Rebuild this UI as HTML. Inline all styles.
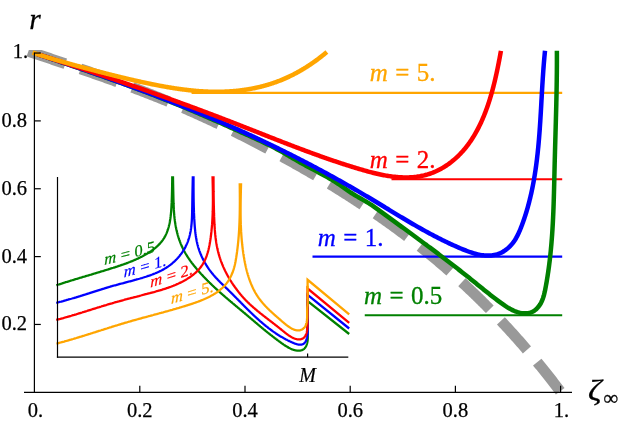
<!DOCTYPE html>
<html><head><meta charset="utf-8"><title>plot</title>
<style>
html,body{margin:0;padding:0;background:#fff;}
svg{display:block;}
text{font-family:"Liberation Serif",serif;}
</style></head>
<body>
<svg width="623" height="426" viewBox="0 0 623 426" style="will-change:transform">
<defs>
<clipPath id="clipmain"><rect x="0" y="50" width="623" height="376"/></clipPath>
<clipPath id="clipinset"><rect x="56" y="176.2" width="294" height="185"/></clipPath>
<clipPath id="clipinset2"><rect x="56" y="183.2" width="294" height="178"/></clipPath>
</defs>
<rect x="0" y="0" width="623" height="426" fill="#ffffff"/>
<path d="M28.40,51.26 L29.93,51.78 L31.47,52.30 L33.00,52.82 L34.53,53.33 L36.06,53.85 L37.60,54.36 L39.13,54.88 L40.66,55.39 L42.19,55.91 L43.72,56.42 L45.25,56.94 L46.78,57.45 L48.31,57.97 L49.84,58.48 L51.37,59.00 L52.89,59.51 L54.42,60.03 L55.95,60.54 L57.48,61.06 L59.00,61.57 L60.53,62.09 L62.06,62.60 L63.58,63.12 L65.11,63.64 L66.63,64.15 L68.16,64.67 L69.68,65.19 L71.21,65.70 L72.73,66.22 L74.25,66.74 L75.77,67.26 L77.30,67.78 L78.82,68.30 L80.34,68.82 L81.86,69.34 L83.38,69.87 L84.90,70.39 L86.42,70.91 L87.94,71.44 L89.45,71.96 L90.97,72.49 L92.49,73.02 L94.01,73.55 L95.52,74.07 L97.04,74.60 L98.55,75.14 L100.07,75.67 L101.58,76.20 L103.10,76.74 L104.61,77.27 L106.12,77.81 L107.63,78.35 L109.15,78.88 L110.66,79.43 L112.17,79.97 L113.68,80.51 L115.19,81.05 L116.70,81.60 L118.20,82.15 L119.71,82.70 L121.22,83.25 L122.72,83.80 L124.23,84.35 L125.74,84.91 L127.24,85.46 L128.74,86.02 L130.25,86.58 L131.75,87.14 L133.25,87.70 L134.75,88.27 L136.26,88.84 L137.76,89.41 L139.26,89.98 L140.76,90.55 L142.25,91.12 L143.75,91.70 L145.25,92.28 L146.75,92.86 L148.24,93.44 L149.74,94.03 L151.23,94.61 L152.72,95.20 L154.22,95.79 L155.71,96.39 L157.20,96.98 L158.69,97.58 L160.18,98.18 L161.67,98.78 L163.16,99.39 L164.65,99.99 L166.14,100.60 L167.62,101.22 L169.11,101.83 L170.60,102.45 L172.08,103.07 L173.56,103.69 L175.05,104.32 L176.53,104.94 L178.01,105.57 L179.49,106.21 L180.97,106.84 L182.45,107.48 L183.93,108.12 L185.41,108.76 L186.89,109.40 L188.36,110.05 L189.84,110.70 L191.31,111.35 L192.79,112.01 L194.26,112.66 L195.73,113.32 L197.20,113.98 L198.67,114.64 L200.14,115.31 L201.61,115.98 L203.08,116.65 L204.55,117.32 L206.01,117.99 L207.48,118.67 L208.94,119.35 L210.41,120.03 L211.87,120.71 L213.33,121.40 L214.79,122.09 L216.25,122.78 L217.71,123.47 L219.17,124.16 L220.63,124.86 L222.08,125.56 L223.54,126.26 L225.00,126.96 L226.45,127.67 L227.90,128.37 L229.35,129.08 L230.81,129.79 L232.26,130.50 L233.71,131.22 L235.15,131.94 L236.60,132.65 L238.05,133.38 L239.49,134.10 L240.94,134.82 L242.38,135.55 L243.82,136.28 L245.27,137.01 L246.71,137.74 L248.15,138.47 L249.58,139.21 L251.02,139.95 L252.46,140.69 L253.89,141.43 L255.33,142.17 L256.76,142.92 L258.20,143.66 L259.63,144.41 L261.06,145.16 L262.49,145.92 L263.92,146.67 L265.34,147.42 L266.77,148.18 L268.20,148.94 L269.62,149.70 L271.04,150.46 L272.47,151.23 L273.89,151.99 L275.31,152.76 L276.73,153.53 L278.14,154.30 L279.56,155.07 L280.98,155.85 L282.39,156.62 L283.80,157.40 L285.22,158.18 L286.63,158.96 L288.04,159.74 L289.45,160.53 L290.85,161.31 L292.26,162.10 L293.67,162.89 L295.07,163.68 L296.47,164.47 L297.88,165.26 L299.28,166.06 L300.68,166.85 L302.08,167.65 L303.47,168.45 L304.87,169.25 L306.26,170.06 L307.66,170.86 L309.05,171.67 L310.44,172.48 L311.83,173.29 L313.22,174.10 L314.61,174.92 L315.99,175.73 L317.38,176.55 L318.76,177.37 L320.14,178.19 L321.52,179.02 L322.90,179.84 L324.28,180.67 L325.66,181.50 L327.03,182.33 L328.41,183.16 L329.78,184.00 L331.15,184.84 L332.52,185.68 L333.89,186.52 L335.26,187.36 L336.62,188.21 L337.99,189.05 L339.35,189.90 L340.71,190.75 L342.07,191.61 L343.43,192.46 L344.79,193.32 L346.14,194.18 L347.50,195.04 L348.85,195.91 L350.20,196.77 L351.55,197.64 L352.90,198.51 L354.24,199.38 L355.59,200.26 L356.93,201.13 L358.27,202.01 L359.61,202.89 L360.95,203.78 L362.29,204.66 L363.63,205.55 L364.96,206.44 L366.29,207.33 L367.62,208.23 L368.95,209.12 L370.28,210.02 L371.61,210.92 L372.93,211.83 L374.26,212.73 L375.58,213.64 L376.90,214.55 L378.21,215.47 L379.53,216.38 L380.85,217.30 L382.16,218.22 L383.47,219.14 L384.78,220.07 L386.09,220.99 L387.39,221.92 L388.70,222.86 L390.00,223.79 L391.30,224.73 L392.60,225.67 L393.90,226.61 L395.19,227.55 L396.49,228.50 L397.78,229.45 L399.07,230.40 L400.36,231.36 L401.65,232.32 L402.93,233.28 L404.21,234.24 L405.49,235.20 L406.77,236.17 L408.05,237.14 L409.33,238.12 L410.60,239.09 L411.87,240.07 L413.14,241.05 L414.41,242.04 L415.68,243.02 L416.94,244.01 L418.20,245.00 L419.47,246.00 L420.72,246.99 L421.98,247.99 L423.24,249.00 L424.49,250.00 L425.74,251.01 L426.99,252.02 L428.24,253.04 L429.48,254.05 L430.72,255.07 L431.96,256.10 L433.20,257.12 L434.44,258.15 L435.68,259.18 L436.91,260.21 L438.14,261.25 L439.37,262.29 L440.59,263.33 L441.82,264.38 L443.04,265.43 L444.26,266.48 L445.48,267.53 L446.70,268.59 L447.91,269.65 L449.12,270.72 L450.33,271.78 L451.54,272.85 L452.75,273.92 L453.95,275.00 L455.15,276.08 L456.35,277.16 L457.55,278.24 L458.74,279.33 L459.94,280.42 L461.13,281.51 L462.32,282.60 L463.50,283.70 L464.69,284.80 L465.87,285.91 L467.05,287.01 L468.23,288.12 L469.40,289.23 L470.57,290.34 L471.74,291.46 L472.91,292.58 L474.08,293.70 L475.24,294.83 L476.40,295.95 L477.56,297.08 L478.72,298.21 L479.87,299.35 L481.03,300.48 L482.17,301.62 L483.32,302.76 L484.47,303.91 L485.61,305.05 L486.75,306.20 L487.89,307.35 L489.02,308.51 L490.16,309.66 L491.29,310.82 L492.42,311.98 L493.54,313.14 L494.67,314.31 L495.79,315.47 L496.91,316.64 L498.02,317.81 L499.14,318.98 L500.25,320.16 L501.36,321.34 L502.46,322.52 L503.57,323.70 L504.67,324.88 L505.77,326.07 L506.86,327.25 L507.96,328.44 L509.05,329.63 L510.14,330.83 L511.22,332.02 L512.31,333.22 L513.39,334.42 L514.47,335.62 L515.54,336.82 L516.61,338.03 L517.68,339.23 L518.75,340.44 L519.82,341.65 L520.88,342.86 L521.94,344.08 L523.00,345.29 L524.05,346.51 L525.11,347.73 L526.16,348.95 L527.20,350.17 L528.25,351.39 L529.29,352.62 L530.33,353.84 L531.36,355.07 L532.40,356.30 L533.43,357.53 L534.46,358.76 L535.48,360.00 L536.50,361.23 L537.52,362.47 L538.54,363.71 L539.56,364.95 L540.57,366.19 L541.58,367.43 L542.58,368.67 L543.59,369.92 L544.59,371.16 L545.58,372.41 L546.58,373.66 L547.57,374.91 L548.56,376.16 L549.55,377.41 L550.53,378.67 L551.51,379.92 L552.49,381.18 L553.46,382.44 L554.43,383.69 L555.40,384.95 L556.37,386.21 L557.33,387.47 L558.29,388.74 L559.25,390.00 L560.20,391.26" fill="none" stroke="#999999" stroke-width="10.8" stroke-dasharray="39 16" clip-path="url(#clipmain)"/>
<line x1="191.60" y1="92.90" x2="562.2" y2="92.90" stroke="#ffa500" stroke-width="2.1"/>
<line x1="391.50" y1="179.20" x2="562.2" y2="179.20" stroke="#ff0000" stroke-width="2.1"/>
<line x1="312.50" y1="256.65" x2="562.2" y2="256.65" stroke="#0000ff" stroke-width="2.1"/>
<line x1="364.75" y1="315.30" x2="562.2" y2="315.30" stroke="#008000" stroke-width="2.1"/>
<path d="M37.06,53.98 L38.64,54.51 L40.22,55.05 L41.81,55.58 L43.39,56.11 L44.97,56.65 L46.55,57.18 L48.13,57.71 L49.72,58.25 L51.30,58.78 L52.88,59.32 L54.47,59.85 L56.05,60.39 L57.63,60.93 L59.21,61.46 L60.80,62.00 L62.38,62.54 L63.96,63.07 L65.55,63.61 L67.13,64.15 L68.71,64.69 L70.29,65.23 L71.88,65.77 L73.46,66.31 L75.04,66.85 L76.63,67.39 L78.21,67.93 L79.79,68.48 L81.37,69.02 L82.95,69.57 L84.54,70.11 L86.12,70.66 L87.70,71.21 L89.28,71.75 L90.86,72.30 L92.45,72.85 L94.03,73.40 L95.61,73.96 L97.19,74.51 L98.77,75.06 L100.35,75.62 L101.93,76.17 L103.51,76.73 L105.09,77.29 L106.67,77.85 L108.25,78.41 L109.83,78.97 L111.40,79.53 L112.98,80.09 L114.56,80.66 L116.14,81.23 L117.72,81.79 L119.29,82.36 L120.87,82.93 L122.45,83.50 L124.02,84.08 L125.60,84.65 L127.17,85.23 L128.75,85.80 L130.32,86.38 L131.89,86.96 L133.47,87.55 L135.04,88.13 L136.61,88.71 L138.18,89.30 L139.76,89.89 L141.33,90.48 L142.90,91.07 L144.47,91.66 L146.04,92.26 L147.60,92.86 L149.17,93.46 L150.74,94.06 L152.31,94.66 L153.88,95.26 L155.44,95.87 L157.01,96.48 L158.57,97.09 L160.14,97.70 L161.70,98.31 L163.26,98.93 L164.82,99.55 L166.39,100.17 L167.95,100.79 L169.51,101.42 L171.07,102.04 L172.63,102.67 L174.19,103.30 L175.74,103.94 L177.30,104.57 L178.86,105.21 L180.41,105.85 L181.97,106.49 L183.52,107.14 L185.07,107.78 L186.63,108.43 L188.18,109.08 L189.73,109.73 L191.28,110.38 L192.83,111.04 L194.38,111.69 L195.92,112.35 L197.47,113.01 L199.02,113.67 L200.56,114.34 L202.10,115.00 L203.65,115.67 L205.19,116.33 L206.73,117.00 L208.27,117.67 L209.81,118.34 L211.35,119.01 L212.89,119.68 L214.42,120.36 L215.96,121.03 L217.49,121.71 L219.03,122.38 L220.56,123.06 L222.09,123.74 L223.62,124.42 L225.15,125.10 L226.68,125.77 L228.21,126.46 L229.73,127.14 L231.26,127.82 L232.78,128.50 L234.31,129.18 L235.83,129.86 L237.35,130.54 L238.87,131.23 L240.39,131.91 L241.91,132.59 L243.42,133.27 L244.94,133.96 L246.45,134.64 L247.97,135.32 L249.48,136.00 L250.99,136.69 L252.50,137.37 L254.00,138.05 L255.51,138.74 L257.02,139.42 L258.52,140.11 L260.02,140.81 L261.53,141.50 L263.03,142.21 L264.53,142.92 L266.02,143.63 L267.52,144.36 L269.01,145.09 L270.51,145.83 L272.00,146.58 L273.49,147.34 L274.98,148.11 L276.47,148.89 L277.96,149.69 L279.44,150.50 L280.93,151.32 L282.41,152.16 L283.89,153.00 L285.37,153.86 L286.85,154.72 L288.33,155.58 L289.80,156.45 L291.28,157.32 L292.75,158.19 L294.22,159.06 L295.69,159.92 L297.16,160.77 L298.62,161.62 L300.09,162.46 L301.55,163.28 L303.02,164.09 L304.48,164.90 L305.93,165.69 L307.39,166.48 L308.85,167.26 L310.30,168.03 L311.75,168.80 L313.21,169.57 L314.65,170.34 L316.10,171.10 L317.55,171.87 L318.99,172.65 L320.44,173.42 L321.88,174.20 L323.32,174.99 L324.76,175.79 L326.20,176.59 L327.63,177.41 L329.07,178.23 L330.50,179.08 L331.93,179.93 L333.36,180.80 L334.79,181.69 L336.22,182.60 L337.65,183.52 L339.07,184.47 L340.49,185.44 L341.91,186.43 L343.33,187.43 L344.75,188.43 L346.17,189.43 L347.58,190.42 L349.00,191.39 L350.41,192.33 L351.82,193.24 L353.23,194.12 L354.64,194.97 L356.05,195.81 L357.45,196.62 L358.86,197.43 L360.26,198.23 L361.66,199.03 L363.06,199.83 L364.46,200.64 L365.86,201.46 L367.25,202.31 L368.65,203.17 L370.04,204.06 L371.43,204.98 L372.82,205.92 L374.21,206.88 L375.60,207.86 L376.99,208.85 L378.37,209.85 L379.75,210.85 L381.14,211.85 L382.52,212.86 L383.90,213.86 L385.27,214.86 L386.65,215.86 L388.03,216.85 L389.40,217.85 L390.77,218.85 L392.14,219.85 L393.51,220.84 L394.88,221.84 L396.25,222.83 L397.61,223.83 L398.98,224.82 L400.34,225.81 L401.71,226.81 L403.07,227.80 L404.43,228.79 L405.78,229.79 L407.14,230.78 L408.50,231.77 L409.85,232.76 L411.20,233.76 L412.55,234.75 L413.91,235.74 L415.25,236.73 L416.60,237.73 L417.95,238.72 L419.29,239.71 L420.64,240.71 L421.98,241.70 L423.32,242.69 L424.66,243.69 L426.00,244.68 L427.34,245.68 L428.68,246.68 L430.01,247.67 L431.35,248.67 L432.68,249.67 L434.01,250.67 L435.34,251.67 L436.67,252.67 L438.00,253.67 L439.33,254.68 L440.65,255.68 L441.98,256.69 L443.30,257.69 L444.62,258.70 L445.94,259.71 L447.26,260.72 L448.58,261.73 L449.90,262.74 L451.21,263.75 L452.53,264.77 L453.84,265.79 L455.15,266.80 L456.47,267.82 L457.78,268.84 L459.08,269.87 L460.39,270.89 L461.70,271.92 L463.00,272.95 L464.31,273.98 L465.61,275.01 L466.91,276.04 L468.22,277.08 L469.52,278.11 L470.81,279.15 L472.11,280.20 L473.41,281.24 L474.70,282.29 L476.00,283.33 L477.29,284.38 L478.59,285.43 L479.89,286.49 L481.18,287.54 L482.48,288.59 L483.79,289.65 L485.10,290.70 L486.41,291.75 L487.73,292.80 L489.05,293.85 L490.38,294.90 L491.71,295.94 L493.06,296.99 L494.41,298.03 L495.77,299.07 L497.14,300.10 L498.52,301.13 L499.91,302.16 L501.32,303.18 L502.73,304.19 L504.16,305.18 L505.60,306.15 L507.06,307.08 L508.53,307.97 L510.01,308.82 L511.51,309.62 L513.03,310.36 L514.57,311.04 L516.12,311.64 L517.69,312.16 L519.28,312.61 L520.88,312.95 L522.49,313.20 L524.09,313.34 L525.69,313.35 L527.26,313.25 L528.80,313.01 L530.32,312.62 L531.78,312.09 L533.20,311.40 L534.56,310.54 L535.85,309.52 L537.06,308.36 L538.20,307.08 L539.24,305.72 L540.19,304.29 L541.03,302.81 L541.78,301.29 L542.44,299.74 L543.02,298.16 L543.54,296.55 L544.00,294.92 L544.41,293.28 L544.79,291.62 L545.13,289.95 L545.46,288.28 L545.77,286.60 L546.08,284.93 L546.38,283.26 L546.67,281.59 L546.95,279.92 L547.22,278.25 L547.49,276.59 L547.75,274.92 L548.00,273.25 L548.25,271.59 L548.49,269.92 L548.72,268.26 L548.94,266.59 L549.16,264.93 L549.37,263.27 L549.58,261.61 L549.78,259.94 L549.97,258.28 L550.16,256.62 L550.34,254.96 L550.51,253.29 L550.68,251.63 L550.84,249.97 L551.00,248.31 L551.15,246.65 L551.30,244.99 L551.44,243.32 L551.58,241.66 L551.71,240.00 L551.84,238.34 L551.97,236.67 L552.09,235.01 L552.20,233.35 L552.31,231.68 L552.42,230.02 L552.52,228.35 L552.62,226.68 L552.71,225.02 L552.80,223.35 L552.89,221.68 L552.97,220.01 L553.05,218.34 L553.13,216.67 L553.21,215.00 L553.28,213.33 L553.35,211.66 L553.41,209.98 L553.48,208.31 L553.54,206.64 L553.60,204.96 L553.66,203.29 L553.71,201.61 L553.76,199.94 L553.81,198.26 L553.86,196.58 L553.91,194.91 L553.96,193.23 L554.00,191.55 L554.05,189.87 L554.09,188.20 L554.13,186.52 L554.18,184.84 L554.22,183.16 L554.26,181.48 L554.30,179.80 L554.33,178.13 L554.37,176.45 L554.41,174.77 L554.45,173.09 L554.49,171.41 L554.53,169.73 L554.57,168.06 L554.61,166.38 L554.65,164.70 L554.69,163.02 L554.74,161.35 L554.78,159.67 L554.82,157.99 L554.87,156.32 L554.91,154.64 L554.96,152.96 L555.00,151.29 L555.05,149.61 L555.10,147.94 L555.14,146.26 L555.19,144.59 L555.24,142.91 L555.29,141.24 L555.33,139.56 L555.38,137.89 L555.43,136.21 L555.48,134.54 L555.52,132.87 L555.57,131.19 L555.62,129.52 L555.67,127.84 L555.71,126.17 L555.76,124.50 L555.81,122.82 L555.85,121.15 L555.90,119.48 L555.94,117.80 L555.99,116.13 L556.03,114.46 L556.08,112.78 L556.12,111.11 L556.16,109.44 L556.20,107.76 L556.25,106.09 L556.29,104.42 L556.32,102.74 L556.36,101.07 L556.40,99.39 L556.44,97.72 L556.47,96.05 L556.51,94.37 L556.54,92.70 L556.57,91.02 L556.60,89.35 L556.63,87.68 L556.66,86.00 L556.69,84.33 L556.71,82.65 L556.74,80.98 L556.76,79.30 L556.78,77.63 L556.80,75.95 L556.82,74.28 L556.84,72.60 L556.85,70.93 L556.86,69.25 L556.88,67.57 L556.89,65.90 L556.89,64.22 L556.90,62.54 L556.90,60.87 L556.90,59.19 L556.90,57.51 L556.90,55.83 L556.90,54.15 L556.89,52.48 L556.88,50.80" fill="none" stroke="#008000" stroke-width="4.5" stroke-linejoin="round"/>
<path d="M37.75,54.24 L39.13,54.70 L40.51,55.15 L41.90,55.61 L43.28,56.06 L44.67,56.52 L46.05,56.97 L47.43,57.43 L48.82,57.88 L50.20,58.34 L51.58,58.80 L52.97,59.26 L54.35,59.72 L55.73,60.18 L57.11,60.64 L58.50,61.10 L59.88,61.56 L61.26,62.02 L62.64,62.48 L64.02,62.95 L65.40,63.41 L66.78,63.88 L68.16,64.34 L69.54,64.81 L70.92,65.28 L72.30,65.74 L73.68,66.21 L75.06,66.68 L76.44,67.15 L77.82,67.62 L79.20,68.09 L80.58,68.56 L81.96,69.03 L83.33,69.51 L84.71,69.98 L86.09,70.46 L87.46,70.93 L88.84,71.41 L90.22,71.88 L91.59,72.36 L92.97,72.84 L94.35,73.32 L95.72,73.80 L97.10,74.28 L98.47,74.76 L99.84,75.24 L101.22,75.72 L102.59,76.21 L103.97,76.69 L105.34,77.18 L106.71,77.66 L108.08,78.15 L109.46,78.64 L110.83,79.13 L112.20,79.62 L113.57,80.11 L114.94,80.60 L116.31,81.09 L117.68,81.58 L119.05,82.08 L120.42,82.57 L121.79,83.07 L123.16,83.56 L124.53,84.06 L125.90,84.56 L127.26,85.06 L128.63,85.56 L130.00,86.06 L131.37,86.56 L132.73,87.06 L134.10,87.57 L135.46,88.07 L136.83,88.58 L138.19,89.08 L139.56,89.59 L140.92,90.10 L142.29,90.61 L143.65,91.12 L145.01,91.63 L146.37,92.14 L147.74,92.66 L149.10,93.17 L150.46,93.69 L151.82,94.20 L153.18,94.72 L154.54,95.24 L155.90,95.76 L157.26,96.28 L158.62,96.80 L159.98,97.32 L161.33,97.85 L162.69,98.37 L164.05,98.90 L165.41,99.42 L166.76,99.95 L168.12,100.48 L169.47,101.01 L170.83,101.54 L172.18,102.08 L173.54,102.61 L174.89,103.14 L176.24,103.68 L177.59,104.22 L178.95,104.75 L180.30,105.29 L181.65,105.83 L183.00,106.38 L184.35,106.92 L185.70,107.46 L187.05,108.01 L188.40,108.55 L189.75,109.10 L191.09,109.65 L192.44,110.20 L193.79,110.75 L195.13,111.30 L196.48,111.85 L197.83,112.41 L199.17,112.96 L200.51,113.52 L201.86,114.08 L203.20,114.64 L204.54,115.20 L205.89,115.76 L207.23,116.32 L208.57,116.89 L209.91,117.46 L211.25,118.02 L212.59,118.59 L213.93,119.16 L215.27,119.73 L216.60,120.30 L217.94,120.88 L219.28,121.45 L220.61,122.03 L221.95,122.60 L223.28,123.18 L224.62,123.76 L225.95,124.34 L227.29,124.93 L228.62,125.51 L229.95,126.10 L231.28,126.68 L232.61,127.27 L233.95,127.86 L235.27,128.45 L236.60,129.04 L237.93,129.64 L239.26,130.23 L240.59,130.83 L241.92,131.43 L243.24,132.03 L244.57,132.63 L245.89,133.23 L247.22,133.83 L248.54,134.44 L249.86,135.05 L251.19,135.65 L252.51,136.26 L253.83,136.87 L255.15,137.49 L256.47,138.10 L257.79,138.72 L259.11,139.33 L260.43,139.95 L261.74,140.57 L263.06,141.19 L264.38,141.82 L265.69,142.44 L267.01,143.07 L268.32,143.69 L269.64,144.32 L270.95,144.95 L272.26,145.58 L273.57,146.22 L274.88,146.85 L276.19,147.49 L277.50,148.13 L278.81,148.77 L280.12,149.41 L281.43,150.05 L282.74,150.70 L284.04,151.34 L285.35,151.99 L286.65,152.64 L287.96,153.29 L289.26,153.94 L290.56,154.60 L291.86,155.25 L293.16,155.91 L294.46,156.57 L295.76,157.23 L297.06,157.89 L298.36,158.56 L299.66,159.22 L300.95,159.89 L302.25,160.55 L303.54,161.22 L304.84,161.89 L306.13,162.57 L307.42,163.24 L308.72,163.92 L310.01,164.59 L311.30,165.27 L312.59,165.95 L313.87,166.63 L315.16,167.32 L316.45,168.00 L317.73,168.69 L319.02,169.38 L320.30,170.06 L321.59,170.75 L322.87,171.45 L324.15,172.14 L325.43,172.83 L326.71,173.53 L327.99,174.23 L329.27,174.93 L330.54,175.63 L331.82,176.33 L333.09,177.03 L334.37,177.74 L335.64,178.45 L336.91,179.15 L338.19,179.86 L339.46,180.57 L340.72,181.28 L341.99,182.00 L343.26,182.71 L344.53,183.43 L345.79,184.15 L347.06,184.87 L348.32,185.59 L349.58,186.31 L350.84,187.03 L352.11,187.76 L353.36,188.48 L354.62,189.21 L355.88,189.94 L357.14,190.67 L358.39,191.40 L359.65,192.13 L360.90,192.87 L362.15,193.60 L363.40,194.34 L364.65,195.08 L365.90,195.82 L367.15,196.56 L368.40,197.30 L369.64,198.05 L370.89,198.79 L372.13,199.54 L373.37,200.28 L374.61,201.03 L375.86,201.78 L377.10,202.53 L378.34,203.28 L379.57,204.03 L380.81,204.79 L382.05,205.54 L383.29,206.29 L384.53,207.04 L385.76,207.80 L387.00,208.55 L388.24,209.30 L389.48,210.06 L390.72,210.81 L391.95,211.56 L393.19,212.31 L394.43,213.06 L395.67,213.81 L396.91,214.56 L398.15,215.31 L399.39,216.06 L400.63,216.81 L401.88,217.55 L403.12,218.30 L404.37,219.04 L405.61,219.78 L406.86,220.52 L408.11,221.26 L409.36,221.99 L410.61,222.73 L411.86,223.46 L413.12,224.19 L414.37,224.92 L415.63,225.64 L416.89,226.36 L418.16,227.09 L419.42,227.80 L420.69,228.52 L421.95,229.23 L423.22,229.94 L424.50,230.65 L425.77,231.35 L427.05,232.05 L428.33,232.75 L429.61,233.44 L430.90,234.13 L432.19,234.81 L433.48,235.50 L434.78,236.17 L436.07,236.85 L437.37,237.52 L438.68,238.18 L439.99,238.85 L441.30,239.50 L442.61,240.16 L443.93,240.81 L445.25,241.45 L446.58,242.09 L447.91,242.72 L449.24,243.35 L450.57,243.98 L451.92,244.60 L453.26,245.21 L454.61,245.82 L455.96,246.42 L457.32,247.02 L458.68,247.61 L460.05,248.20 L461.42,248.77 L462.80,249.35 L464.18,249.91 L465.56,250.46 L466.95,250.99 L468.34,251.51 L469.73,252.00 L471.13,252.48 L472.53,252.93 L473.93,253.35 L475.34,253.74 L476.74,254.10 L478.15,254.43 L479.56,254.72 L480.97,254.97 L482.38,255.18 L483.79,255.35 L485.20,255.47 L486.61,255.54 L488.03,255.56 L489.44,255.53 L490.85,255.44 L492.25,255.29 L493.65,255.08 L495.04,254.81 L496.41,254.48 L497.77,254.07 L499.11,253.60 L500.42,253.05 L501.71,252.43 L502.97,251.74 L504.20,250.99 L505.40,250.17 L506.56,249.30 L507.69,248.37 L508.79,247.39 L509.84,246.37 L510.86,245.30 L511.83,244.20 L512.76,243.06 L513.64,241.89 L514.48,240.69 L515.27,239.47 L516.03,238.22 L516.74,236.95 L517.42,235.66 L518.07,234.36 L518.69,233.04 L519.29,231.70 L519.87,230.36 L520.42,229.01 L520.96,227.65 L521.49,226.28 L522.00,224.91 L522.51,223.54 L523.01,222.17 L523.49,220.79 L523.97,219.41 L524.44,218.03 L524.90,216.64 L525.35,215.25 L525.79,213.86 L526.22,212.47 L526.64,211.07 L527.06,209.67 L527.46,208.27 L527.86,206.87 L528.24,205.46 L528.62,204.06 L529.00,202.65 L529.36,201.23 L529.71,199.82 L530.06,198.40 L530.40,196.99 L530.73,195.57 L531.06,194.15 L531.38,192.72 L531.69,191.30 L531.99,189.87 L532.28,188.45 L532.57,187.02 L532.85,185.59 L533.13,184.16 L533.40,182.72 L533.66,181.29 L533.91,179.85 L534.16,178.42 L534.41,176.98 L534.64,175.54 L534.88,174.10 L535.10,172.66 L535.32,171.22 L535.54,169.78 L535.74,168.34 L535.95,166.90 L536.15,165.45 L536.34,164.01 L536.53,162.57 L536.71,161.12 L536.89,159.68 L537.06,158.23 L537.23,156.79 L537.39,155.34 L537.56,153.90 L537.71,152.45 L537.86,151.00 L538.01,149.56 L538.16,148.11 L538.30,146.66 L538.43,145.22 L538.57,143.77 L538.70,142.32 L538.82,140.87 L538.95,139.42 L539.07,137.97 L539.18,136.52 L539.30,135.07 L539.41,133.62 L539.52,132.17 L539.63,130.72 L539.73,129.27 L539.83,127.82 L539.93,126.37 L540.03,124.92 L540.13,123.46 L540.22,122.01 L540.31,120.56 L540.40,119.11 L540.49,117.66 L540.58,116.20 L540.67,114.75 L540.75,113.30 L540.84,111.84 L540.92,110.39 L541.01,108.94 L541.09,107.49 L541.17,106.03 L541.25,104.58 L541.33,103.12 L541.41,101.67 L541.49,100.22 L541.58,98.76 L541.66,97.31 L541.74,95.86 L541.82,94.40 L541.90,92.95 L541.98,91.49 L542.07,90.04 L542.15,88.59 L542.24,87.13 L542.32,85.68 L542.41,84.22 L542.50,82.77 L542.59,81.32 L542.68,79.86 L542.77,78.41 L542.87,76.95 L542.97,75.50 L543.06,74.05 L543.17,72.59 L543.27,71.14 L543.37,69.68 L543.48,68.23 L543.59,66.78 L543.70,65.33 L543.82,63.87 L543.94,62.42 L544.06,60.97 L544.19,59.51 L544.31,58.06 L544.44,56.61 L544.58,55.16 L544.72,53.70 L544.86,52.25 L545.01,50.80" fill="none" stroke="#0000ff" stroke-width="4.5" stroke-linejoin="round"/>
<path d="M37.43,54.19 L38.54,54.54 L39.64,54.89 L40.74,55.24 L41.84,55.59 L42.95,55.94 L44.05,56.30 L45.15,56.65 L46.25,57.00 L47.35,57.35 L48.45,57.70 L49.54,58.06 L50.64,58.41 L51.74,58.76 L52.84,59.11 L53.93,59.47 L55.03,59.82 L56.13,60.17 L57.22,60.53 L58.32,60.88 L59.41,61.24 L60.50,61.59 L61.60,61.95 L62.69,62.30 L63.78,62.66 L64.87,63.01 L65.97,63.37 L67.06,63.72 L68.15,64.08 L69.24,64.43 L70.33,64.79 L71.42,65.15 L72.51,65.50 L73.60,65.86 L74.69,66.22 L75.77,66.57 L76.86,66.93 L77.95,67.29 L79.03,67.65 L80.12,68.00 L81.21,68.36 L82.29,68.72 L83.38,69.08 L84.46,69.44 L85.55,69.80 L86.63,70.16 L87.72,70.52 L88.80,70.88 L89.88,71.24 L90.96,71.60 L92.05,71.96 L93.13,72.32 L94.21,72.68 L95.29,73.04 L96.37,73.41 L97.45,73.77 L98.53,74.13 L99.61,74.49 L100.69,74.86 L101.77,75.22 L102.85,75.58 L103.93,75.95 L105.01,76.31 L106.08,76.67 L107.16,77.04 L108.24,77.40 L109.32,77.77 L110.39,78.13 L111.47,78.50 L112.55,78.87 L113.62,79.23 L114.70,79.60 L115.77,79.97 L116.85,80.33 L117.92,80.70 L119.00,81.07 L120.07,81.44 L121.14,81.80 L122.22,82.17 L123.29,82.54 L124.36,82.91 L125.44,83.28 L126.51,83.65 L127.58,84.02 L128.65,84.39 L129.73,84.76 L130.80,85.13 L131.87,85.51 L132.94,85.88 L134.01,86.25 L135.08,86.62 L136.15,86.99 L137.22,87.37 L138.29,87.74 L139.36,88.12 L140.43,88.49 L141.50,88.86 L142.57,89.24 L143.64,89.61 L144.70,89.99 L145.77,90.37 L146.84,90.74 L147.91,91.12 L148.98,91.50 L150.04,91.87 L151.11,92.25 L152.18,92.63 L153.25,93.01 L154.31,93.39 L155.38,93.77 L156.45,94.15 L157.51,94.53 L158.58,94.91 L159.64,95.29 L160.71,95.67 L161.78,96.05 L162.84,96.43 L163.91,96.81 L164.97,97.20 L166.04,97.58 L167.10,97.96 L168.17,98.35 L169.23,98.73 L170.30,99.12 L171.36,99.50 L172.42,99.89 L173.49,100.27 L174.55,100.66 L175.62,101.05 L176.68,101.43 L177.74,101.82 L178.81,102.21 L179.87,102.60 L180.93,102.99 L182.00,103.38 L183.06,103.77 L184.12,104.16 L185.19,104.55 L186.25,104.94 L187.31,105.33 L188.38,105.72 L189.44,106.11 L190.50,106.51 L191.56,106.90 L192.63,107.29 L193.69,107.69 L194.75,108.08 L195.81,108.48 L196.88,108.87 L197.94,109.27 L199.00,109.66 L200.06,110.06 L201.12,110.46 L202.19,110.86 L203.25,111.25 L204.31,111.65 L205.37,112.05 L206.43,112.45 L207.50,112.85 L208.56,113.25 L209.62,113.65 L210.68,114.05 L211.74,114.46 L212.80,114.86 L213.87,115.26 L214.93,115.67 L215.99,116.07 L217.05,116.47 L218.11,116.88 L219.18,117.28 L220.24,117.69 L221.30,118.10 L222.36,118.50 L223.42,118.91 L224.48,119.32 L225.55,119.73 L226.61,120.14 L227.67,120.55 L228.73,120.96 L229.79,121.37 L230.86,121.78 L231.92,122.19 L232.98,122.60 L234.04,123.01 L235.11,123.43 L236.17,123.84 L237.23,124.25 L238.29,124.67 L239.36,125.08 L240.42,125.50 L241.48,125.92 L242.54,126.33 L243.61,126.75 L244.67,127.17 L245.73,127.58 L246.80,128.00 L247.86,128.42 L248.92,128.84 L249.99,129.26 L251.05,129.67 L252.11,130.09 L253.18,130.51 L254.24,130.93 L255.31,131.35 L256.37,131.77 L257.43,132.19 L258.50,132.61 L259.56,133.03 L260.63,133.45 L261.69,133.87 L262.76,134.29 L263.82,134.71 L264.89,135.12 L265.95,135.54 L267.02,135.96 L268.08,136.38 L269.15,136.80 L270.21,137.22 L271.28,137.64 L272.35,138.06 L273.41,138.47 L274.48,138.89 L275.55,139.31 L276.61,139.73 L277.68,140.14 L278.75,140.56 L279.82,140.97 L280.88,141.39 L281.95,141.80 L283.02,142.22 L284.09,142.63 L285.16,143.05 L286.23,143.46 L287.29,143.87 L288.36,144.28 L289.43,144.69 L290.50,145.10 L291.57,145.51 L292.64,145.92 L293.71,146.33 L294.78,146.74 L295.85,147.15 L296.92,147.55 L298.00,147.96 L299.07,148.36 L300.14,148.77 L301.21,149.17 L302.28,149.57 L303.35,149.97 L304.43,150.37 L305.50,150.77 L306.57,151.17 L307.65,151.57 L308.72,151.97 L309.79,152.36 L310.87,152.76 L311.94,153.15 L313.02,153.54 L314.09,153.93 L315.17,154.32 L316.24,154.71 L317.32,155.10 L318.40,155.49 L319.47,155.87 L320.55,156.26 L321.63,156.64 L322.70,157.02 L323.78,157.40 L324.86,157.78 L325.94,158.16 L327.02,158.53 L328.10,158.91 L329.18,159.28 L330.26,159.65 L331.34,160.02 L332.42,160.39 L333.50,160.76 L334.58,161.12 L335.66,161.49 L336.74,161.85 L337.82,162.21 L338.91,162.57 L339.99,162.93 L341.07,163.29 L342.16,163.64 L343.24,163.99 L344.32,164.34 L345.41,164.69 L346.49,165.04 L347.58,165.38 L348.67,165.73 L349.75,166.07 L350.84,166.41 L351.93,166.75 L353.01,167.08 L354.10,167.42 L355.19,167.75 L356.28,168.08 L357.37,168.41 L358.46,168.73 L359.55,169.06 L360.64,169.38 L361.73,169.70 L362.82,170.02 L363.91,170.33 L365.00,170.64 L366.10,170.95 L367.19,171.26 L368.29,171.56 L369.38,171.85 L370.48,172.14 L371.58,172.43 L372.68,172.71 L373.78,172.99 L374.88,173.26 L375.99,173.53 L377.10,173.79 L378.20,174.04 L379.32,174.28 L380.43,174.52 L381.54,174.75 L382.66,174.98 L383.78,175.19 L384.90,175.40 L386.02,175.60 L387.15,175.79 L388.28,175.97 L389.41,176.15 L390.54,176.31 L391.67,176.46 L392.81,176.61 L393.95,176.74 L395.08,176.86 L396.22,176.97 L397.36,177.07 L398.50,177.16 L399.64,177.23 L400.78,177.30 L401.92,177.35 L403.06,177.39 L404.19,177.41 L405.33,177.42 L406.47,177.42 L407.60,177.41 L408.74,177.38 L409.87,177.34 L411.00,177.28 L412.13,177.20 L413.26,177.12 L414.38,177.01 L415.50,176.89 L416.62,176.76 L417.74,176.60 L418.85,176.43 L419.96,176.25 L421.07,176.04 L422.17,175.82 L423.27,175.59 L424.36,175.33 L425.45,175.05 L426.54,174.76 L427.62,174.45 L428.70,174.11 L429.77,173.76 L430.83,173.39 L431.90,173.00 L432.95,172.60 L434.00,172.17 L435.04,171.73 L436.08,171.27 L437.11,170.79 L438.13,170.29 L439.14,169.78 L440.15,169.25 L441.15,168.71 L442.14,168.15 L443.12,167.57 L444.10,166.98 L445.06,166.38 L446.02,165.76 L446.96,165.13 L447.90,164.49 L448.83,163.83 L449.74,163.16 L450.65,162.47 L451.55,161.78 L452.43,161.07 L453.31,160.35 L454.17,159.62 L455.03,158.88 L455.87,158.13 L456.70,157.36 L457.52,156.59 L458.33,155.81 L459.13,155.02 L459.92,154.21 L460.70,153.40 L461.47,152.58 L462.23,151.75 L462.98,150.91 L463.72,150.06 L464.44,149.21 L465.16,148.34 L465.87,147.47 L466.57,146.58 L467.26,145.69 L467.94,144.79 L468.61,143.89 L469.27,142.97 L469.92,142.05 L470.57,141.12 L471.20,140.18 L471.82,139.23 L472.44,138.28 L473.05,137.32 L473.65,136.36 L474.24,135.38 L474.82,134.40 L475.39,133.42 L475.95,132.43 L476.51,131.43 L477.06,130.42 L477.60,129.41 L478.13,128.40 L478.65,127.38 L479.17,126.35 L479.68,125.32 L480.18,124.28 L480.67,123.24 L481.15,122.20 L481.63,121.15 L482.10,120.09 L482.57,119.03 L483.02,117.97 L483.47,116.90 L483.92,115.83 L484.35,114.75 L484.78,113.67 L485.20,112.59 L485.62,111.50 L486.03,110.41 L486.43,109.32 L486.83,108.22 L487.22,107.13 L487.60,106.03 L487.98,104.92 L488.35,103.82 L488.72,102.71 L489.08,101.60 L489.43,100.49 L489.78,99.37 L490.12,98.26 L490.46,97.14 L490.80,96.03 L491.12,94.91 L491.45,93.79 L491.76,92.67 L492.08,91.54 L492.38,90.42 L492.69,89.30 L492.98,88.18 L493.28,87.05 L493.57,85.93 L493.85,84.81 L494.13,83.69 L494.41,82.57 L494.68,81.44 L494.95,80.32 L495.21,79.20 L495.47,78.09 L495.72,76.97 L495.98,75.85 L496.22,74.74 L496.47,73.62 L496.71,72.51 L496.95,71.40 L497.18,70.30 L497.42,69.19 L497.64,68.09 L497.87,66.99 L498.09,65.89 L498.31,64.79 L498.53,63.70 L498.74,62.61 L498.95,61.53 L499.16,60.45 L499.37,59.37 L499.57,58.29 L499.78,57.22 L499.98,56.15 L500.17,55.09 L500.37,54.03 L500.56,52.97 L500.76,51.92 L500.95,50.88" fill="none" stroke="#ff0000" stroke-width="4.5" stroke-linejoin="round"/>
<path d="M32.48,52.55 L33.05,52.74 L33.63,52.93 L34.20,53.12 L34.78,53.31 L35.35,53.50 L35.93,53.69 L36.51,53.88 L37.08,54.07 L37.66,54.26 L38.24,54.45 L38.82,54.63 L39.39,54.82 L39.97,55.01 L40.55,55.19 L41.13,55.38 L41.71,55.56 L42.29,55.74 L42.87,55.93 L43.45,56.11 L44.03,56.29 L44.61,56.47 L45.19,56.65 L45.77,56.83 L46.35,57.01 L46.93,57.19 L47.52,57.37 L48.10,57.55 L48.68,57.73 L49.26,57.90 L49.85,58.08 L50.43,58.25 L51.01,58.43 L51.60,58.61 L52.18,58.78 L52.77,58.96 L53.35,59.13 L53.94,59.30 L54.52,59.48 L55.11,59.65 L55.69,59.82 L56.28,59.99 L56.87,60.16 L57.45,60.33 L58.04,60.51 L58.63,60.68 L59.21,60.85 L59.80,61.02 L60.39,61.18 L60.98,61.35 L61.56,61.52 L62.15,61.69 L62.74,61.86 L63.33,62.03 L63.92,62.19 L64.51,62.36 L65.10,62.53 L65.69,62.69 L66.28,62.86 L66.87,63.02 L67.46,63.19 L68.05,63.35 L68.64,63.52 L69.23,63.68 L69.82,63.85 L70.42,64.01 L71.01,64.18 L71.60,64.34 L72.19,64.50 L72.78,64.67 L73.38,64.83 L73.97,64.99 L74.56,65.15 L75.16,65.32 L75.75,65.48 L76.35,65.64 L76.94,65.80 L77.53,65.96 L78.13,66.13 L78.72,66.29 L79.32,66.45 L79.91,66.61 L80.51,66.77 L81.10,66.93 L81.70,67.09 L82.30,67.25 L82.89,67.41 L83.49,67.57 L84.09,67.73 L84.68,67.89 L85.28,68.05 L85.88,68.21 L86.47,68.37 L87.07,68.53 L87.67,68.69 L88.27,68.85 L88.87,69.01 L89.47,69.17 L90.06,69.33 L90.66,69.49 L91.26,69.65 L91.86,69.80 L92.46,69.96 L93.06,70.12 L93.66,70.28 L94.26,70.44 L94.86,70.60 L95.46,70.75 L96.06,70.91 L96.66,71.07 L97.26,71.23 L97.86,71.38 L98.46,71.54 L99.07,71.70 L99.67,71.85 L100.27,72.01 L100.87,72.17 L101.47,72.32 L102.08,72.48 L102.68,72.63 L103.28,72.79 L103.88,72.94 L104.49,73.10 L105.09,73.25 L105.69,73.41 L106.30,73.56 L106.90,73.72 L107.50,73.87 L108.11,74.02 L108.71,74.18 L109.31,74.33 L109.92,74.48 L110.52,74.64 L111.13,74.79 L111.73,74.94 L112.34,75.09 L112.94,75.24 L113.55,75.40 L114.15,75.55 L114.76,75.70 L115.36,75.85 L115.97,76.00 L116.58,76.15 L117.18,76.30 L117.79,76.45 L118.40,76.59 L119.00,76.74 L119.61,76.89 L120.22,77.04 L120.82,77.19 L121.43,77.33 L122.04,77.48 L122.64,77.63 L123.25,77.77 L123.86,77.92 L124.47,78.06 L125.07,78.21 L125.68,78.35 L126.29,78.50 L126.90,78.64 L127.51,78.79 L128.11,78.93 L128.72,79.07 L129.33,79.21 L129.94,79.36 L130.55,79.50 L131.16,79.64 L131.77,79.78 L132.38,79.92 L132.99,80.06 L133.60,80.20 L134.21,80.34 L134.82,80.48 L135.42,80.62 L136.03,80.75 L136.64,80.89 L137.25,81.03 L137.87,81.17 L138.48,81.30 L139.09,81.44 L139.70,81.57 L140.31,81.71 L140.92,81.84 L141.53,81.98 L142.14,82.11 L142.75,82.24 L143.36,82.37 L143.97,82.51 L144.58,82.64 L145.19,82.77 L145.81,82.90 L146.42,83.03 L147.03,83.16 L147.64,83.29 L148.25,83.42 L148.86,83.54 L149.48,83.67 L150.09,83.80 L150.70,83.92 L151.31,84.05 L151.92,84.17 L152.54,84.30 L153.15,84.42 L153.76,84.54 L154.37,84.67 L154.99,84.79 L155.60,84.91 L156.21,85.03 L156.83,85.15 L157.44,85.27 L158.05,85.39 L158.66,85.50 L159.28,85.62 L159.89,85.74 L160.50,85.85 L161.12,85.97 L161.73,86.08 L162.34,86.19 L162.96,86.30 L163.57,86.41 L164.18,86.53 L164.80,86.63 L165.41,86.74 L166.02,86.85 L166.64,86.96 L167.25,87.06 L167.87,87.17 L168.48,87.27 L169.09,87.38 L169.71,87.48 L170.32,87.58 L170.93,87.68 L171.55,87.78 L172.16,87.88 L172.78,87.98 L173.39,88.08 L174.01,88.17 L174.62,88.27 L175.23,88.36 L175.85,88.45 L176.46,88.55 L177.08,88.64 L177.69,88.73 L178.31,88.81 L178.92,88.90 L179.53,88.99 L180.15,89.07 L180.76,89.16 L181.38,89.24 L181.99,89.32 L182.61,89.40 L183.22,89.48 L183.84,89.56 L184.45,89.64 L185.07,89.72 L185.68,89.79 L186.29,89.86 L186.91,89.94 L187.52,90.01 L188.14,90.08 L188.75,90.15 L189.37,90.22 L189.98,90.28 L190.60,90.35 L191.21,90.41 L191.83,90.47 L192.44,90.53 L193.06,90.59 L193.67,90.65 L194.29,90.71 L194.90,90.77 L195.52,90.82 L196.13,90.87 L196.74,90.93 L197.36,90.98 L197.97,91.02 L198.59,91.07 L199.20,91.12 L199.82,91.16 L200.43,91.21 L201.05,91.25 L201.66,91.29 L202.28,91.33 L202.89,91.36 L203.51,91.40 L204.12,91.43 L204.73,91.47 L205.35,91.50 L205.96,91.53 L206.58,91.55 L207.19,91.58 L207.81,91.61 L208.42,91.63 L209.04,91.65 L209.65,91.67 L210.26,91.69 L210.88,91.71 L211.49,91.72 L212.11,91.74 L212.72,91.75 L213.34,91.76 L213.95,91.77 L214.56,91.77 L215.18,91.78 L215.79,91.78 L216.41,91.78 L217.02,91.78 L217.63,91.78 L218.25,91.78 L218.86,91.77 L219.47,91.77 L220.09,91.76 L220.70,91.75 L221.31,91.73 L221.93,91.72 L222.54,91.70 L223.15,91.69 L223.77,91.67 L224.38,91.64 L224.99,91.62 L225.61,91.60 L226.22,91.57 L226.83,91.54 L227.45,91.51 L228.06,91.47 L228.67,91.44 L229.28,91.40 L229.89,91.36 L230.51,91.32 L231.12,91.28 L231.73,91.24 L232.34,91.19 L232.95,91.14 L233.56,91.09 L234.17,91.04 L234.78,90.99 L235.39,90.93 L236.00,90.87 L236.61,90.81 L237.22,90.75 L237.83,90.69 L238.44,90.62 L239.05,90.55 L239.66,90.48 L240.27,90.41 L240.88,90.33 L241.48,90.26 L242.09,90.18 L242.70,90.10 L243.30,90.02 L243.91,89.93 L244.52,89.85 L245.12,89.76 L245.73,89.67 L246.33,89.57 L246.94,89.48 L247.54,89.38 L248.15,89.28 L248.75,89.18 L249.35,89.08 L249.96,88.97 L250.56,88.86 L251.16,88.75 L251.76,88.64 L252.37,88.53 L252.97,88.41 L253.57,88.29 L254.17,88.17 L254.77,88.04 L255.37,87.92 L255.97,87.79 L256.56,87.66 L257.16,87.53 L257.76,87.39 L258.36,87.26 L258.95,87.12 L259.55,86.98 L260.14,86.83 L260.74,86.69 L261.33,86.54 L261.93,86.39 L262.52,86.24 L263.11,86.08 L263.70,85.92 L264.30,85.76 L264.89,85.60 L265.48,85.44 L266.07,85.27 L266.66,85.10 L267.25,84.93 L267.83,84.76 L268.42,84.58 L269.01,84.40 L269.60,84.22 L270.18,84.04 L270.77,83.85 L271.35,83.66 L271.94,83.47 L272.52,83.28 L273.10,83.08 L273.68,82.89 L274.26,82.69 L274.85,82.48 L275.43,82.28 L276.00,82.07 L276.58,81.86 L277.16,81.65 L277.74,81.43 L278.31,81.21 L278.89,80.99 L279.47,80.77 L280.04,80.54 L280.61,80.32 L281.19,80.09 L281.76,79.85 L282.33,79.62 L282.90,79.38 L283.47,79.14 L284.04,78.90 L284.61,78.65 L285.17,78.40 L285.74,78.15 L286.31,77.90 L286.87,77.64 L287.43,77.39 L288.00,77.13 L288.56,76.86 L289.12,76.60 L289.68,76.33 L290.24,76.06 L290.80,75.79 L291.36,75.52 L291.92,75.24 L292.47,74.96 L293.03,74.68 L293.58,74.40 L294.13,74.11 L294.69,73.83 L295.24,73.54 L295.79,73.24 L296.34,72.95 L296.89,72.65 L297.44,72.35 L297.98,72.05 L298.53,71.75 L299.07,71.44 L299.62,71.13 L300.16,70.82 L300.70,70.51 L301.24,70.20 L301.78,69.88 L302.32,69.56 L302.86,69.24 L303.40,68.92 L303.93,68.59 L304.47,68.27 L305.00,67.94 L305.54,67.61 L306.07,67.27 L306.60,66.94 L307.13,66.60 L307.66,66.26 L308.18,65.92 L308.71,65.58 L309.23,65.23 L309.76,64.88 L310.28,64.53 L310.80,64.18 L311.32,63.83 L311.84,63.47 L312.36,63.12 L312.88,62.76 L313.40,62.40 L313.91,62.03 L314.42,61.67 L314.94,61.30 L315.45,60.93 L315.96,60.56 L316.47,60.19 L316.97,59.82 L317.48,59.44 L317.99,59.06 L318.49,58.68 L318.99,58.30 L319.50,57.92 L320.00,57.53 L320.49,57.15 L320.99,56.76 L321.49,56.37 L321.98,55.98 L322.48,55.58 L322.97,55.19 L323.46,54.79 L323.95,54.39 L324.44,53.99 L324.93,53.59 L325.41,53.18 L325.90,52.78 L326.38,52.37 L326.86,51.96" fill="none" stroke="#ffa500" stroke-width="4.5" stroke-linejoin="round"/>
<g clip-path="url(#clipinset)">
<path d="M56.29,285.24 L57.03,285.00 L57.78,284.76 L58.52,284.52 L59.26,284.29 L59.99,284.05 L60.72,283.82 L61.45,283.58 L62.18,283.35 L62.90,283.12 L63.63,282.90 L64.35,282.67 L65.06,282.45 L65.78,282.22 L66.49,282.00 L67.20,281.78 L67.91,281.56 L68.62,281.34 L69.32,281.12 L70.02,280.91 L70.72,280.69 L71.42,280.48 L72.12,280.26 L72.81,280.05 L73.51,279.84 L74.20,279.63 L74.89,279.42 L75.58,279.21 L76.27,279.00 L76.96,278.79 L77.64,278.59 L78.32,278.38 L79.01,278.18 L79.69,277.97 L80.37,277.77 L81.05,277.56 L81.73,277.36 L82.41,277.16 L83.09,276.95 L83.77,276.75 L84.44,276.55 L85.12,276.35 L85.80,276.14 L86.47,275.94 L87.15,275.74 L87.82,275.54 L88.50,275.34 L89.17,275.13 L89.85,274.93 L90.52,274.73 L91.20,274.53 L91.87,274.33 L92.55,274.13 L93.22,273.92 L93.90,273.72 L94.57,273.52 L95.25,273.31 L95.93,273.11 L96.61,272.91 L97.28,272.70 L97.96,272.50 L98.64,272.29 L99.33,272.08 L100.01,271.88 L100.69,271.67 L101.37,271.46 L102.06,271.25 L102.75,271.04 L103.43,270.83 L104.12,270.62 L104.81,270.40 L105.51,270.19 L106.20,269.98 L106.89,269.76 L107.59,269.54 L108.29,269.33 L108.99,269.11 L109.69,268.89 L110.40,268.66 L111.10,268.44 L111.81,268.22 L112.52,267.99 L113.23,267.77 L113.94,267.54 L114.66,267.31 L115.38,267.08 L116.10,266.84 L116.81,266.61 L117.54,266.37 L118.26,266.13 L118.98,265.89 L119.70,265.65 L120.43,265.40 L121.15,265.15 L121.87,264.90 L122.60,264.65 L123.32,264.40 L124.05,264.14 L124.77,263.88 L125.49,263.62 L126.22,263.35 L126.94,263.08 L127.66,262.81 L128.38,262.54 L129.10,262.26 L129.82,261.98 L130.54,261.69 L131.25,261.41 L131.96,261.12 L132.68,260.82 L133.39,260.53 L134.09,260.22 L134.80,259.92 L135.50,259.61 L136.20,259.30 L136.90,258.98 L137.60,258.66 L138.29,258.34 L138.98,258.01 L139.67,257.68 L140.35,257.34 L141.03,257.00 L141.71,256.66 L142.38,256.31 L143.05,255.95 L143.71,255.59 L144.38,255.23 L145.03,254.86 L145.68,254.49 L146.33,254.11 L146.98,253.73 L147.61,253.34 L148.25,252.94 L148.88,252.55 L149.50,252.14 L150.12,251.73 L150.73,251.32 L151.34,250.90 L151.94,250.47 L152.53,250.04 L153.12,249.60 L153.70,249.16 L154.28,248.71 L154.84,248.26 L155.40,247.80 L155.95,247.33 L156.50,246.86 L157.03,246.38 L157.56,245.89 L158.08,245.40 L158.59,244.90 L159.08,244.39 L159.57,243.88 L160.05,243.36 L160.52,242.84 L160.97,242.31 L161.42,241.77 L161.85,241.22 L162.28,240.67 L162.69,240.11 L163.08,239.54 L163.47,238.96 L163.84,238.38 L164.20,237.79 L164.55,237.20 L164.89,236.60 L165.22,235.99 L165.53,235.37 L165.83,234.75 L166.13,234.12 L166.41,233.49 L166.68,232.85 L166.94,232.21 L167.19,231.56 L167.44,230.90 L167.67,230.24 L167.89,229.58 L168.11,228.91 L168.31,228.23 L168.51,227.55 L168.70,226.87 L168.88,226.18 L169.05,225.49 L169.22,224.79 L169.37,224.10 L169.52,223.39 L169.67,222.69 L169.80,221.98 L169.93,221.26 L170.05,220.55 L170.17,219.83 L170.28,219.11 L170.39,218.39 L170.48,217.66 L170.58,216.93 L170.67,216.20 L170.75,215.47 L170.83,214.74 L170.91,214.00 L170.98,213.26 L171.04,212.53 L171.11,211.79 L171.16,211.05 L171.22,210.31 L171.27,209.57 L171.32,208.82 L171.37,208.08 L171.42,207.34 L171.46,206.60 L171.50,205.85 L171.54,205.11 L171.57,204.37 L171.61,203.63 L171.64,202.89 L171.68,202.15 L171.71,201.41 L171.74,200.67 L171.77,199.93 L171.80,199.20 L171.82,198.46 L171.85,197.72 L171.87,196.99 L171.90,196.25 L171.92,195.52 L171.94,194.78 L171.96,194.05 L171.98,193.31 L172.00,192.58 L172.02,191.85 L172.04,191.12 L172.05,190.39 L172.07,189.65 L172.09,188.92 L172.10,188.19 L172.11,187.46 L172.13,186.73 L172.14,186.00 L172.15,185.27 L172.16,184.54 L172.17,183.81 L172.18,183.09 L172.19,182.36 L172.20,181.63 L172.21,180.90 L172.21,180.17 L172.22,179.45 L172.23,178.72 L172.23,177.99 L172.24,177.26 L172.24,176.54 L172.25,175.81 L172.25,175.08 L172.26,174.36 L172.26,173.63 L172.27,172.90 L172.27,172.18 L172.28,171.45 L172.28,170.72 L172.28,170.00 L172.29,169.27 L172.29,168.54 L172.29,167.81 L172.30,167.09 L172.30,166.36 L172.30,165.63 L172.31,164.91 L172.31,164.18 L172.31,163.45 L172.32,162.72 L172.32,161.99 L172.32,161.27 L172.33,160.54 L172.33,159.81 L172.34,159.08 L172.34,158.35 L172.35,157.62 L172.35,156.89 L172.36,156.16 L172.37,155.43 L172.37,154.70 L172.38,153.97 L172.39,153.24 L172.40,152.50 L172.41,151.77 L172.42,151.04 L172.43,150.31 L172.44,149.57 L172.45,148.84 L172.46,148.10 L172.47,147.37 L172.48,146.63 L172.50,145.90 L172.51,145.16 L172.53,144.42 L172.54,143.69 L172.56,142.95 L172.58,142.21 L172.60,141.47 L172.62,140.73 L172.64,139.99 L172.60,139.99 L172.60,140.47 L172.60,140.96 L172.61,141.44 L172.61,141.92 L172.61,142.41 L172.61,142.89 L172.61,143.37 L172.62,143.86 L172.62,144.34 L172.62,144.82 L172.62,145.30 L172.63,145.78 L172.63,146.26 L172.63,146.75 L172.63,147.23 L172.64,147.71 L172.64,148.19 L172.64,148.67 L172.65,149.15 L172.65,149.63 L172.65,150.11 L172.66,150.59 L172.66,151.07 L172.66,151.55 L172.67,152.03 L172.67,152.51 L172.68,152.98 L172.68,153.46 L172.68,153.94 L172.69,154.42 L172.69,154.90 L172.70,155.38 L172.70,155.85 L172.71,156.33 L172.71,156.81 L172.72,157.29 L172.72,157.76 L172.73,158.24 L172.73,158.72 L172.74,159.19 L172.74,159.67 L172.75,160.15 L172.75,160.62 L172.76,161.10 L172.76,161.58 L172.77,162.05 L172.77,162.53 L172.78,163.01 L172.78,163.48 L172.79,163.96 L172.80,164.43 L172.80,164.91 L172.81,165.39 L172.82,165.86 L172.82,166.34 L172.83,166.81 L172.83,167.29 L172.84,167.77 L172.85,168.24 L172.85,168.72 L172.86,169.19 L172.87,169.67 L172.88,170.14 L172.88,170.62 L172.89,171.09 L172.90,171.57 L172.90,172.05 L172.91,172.52 L172.92,173.00 L172.93,173.47 L172.93,173.95 L172.94,174.42 L172.95,174.90 L172.96,175.38 L172.97,175.85 L172.97,176.33 L172.98,176.80 L172.99,177.28 L173.00,177.76 L173.01,178.23 L173.01,178.71 L173.02,179.18 L173.03,179.66 L173.04,180.14 L173.05,180.61 L173.06,181.09 L173.07,181.57 L173.08,182.04 L173.08,182.52 L173.09,183.00 L173.10,183.47 L173.11,183.95 L173.12,184.43 L173.13,184.90 L173.14,185.38 L173.15,185.86 L173.16,186.34 L173.17,186.82 L173.18,187.29 L173.19,187.77 L173.20,188.25 L173.21,188.73 L173.22,189.21 L173.23,189.69 L173.24,190.17 L173.25,190.64 L173.26,191.12 L173.27,191.60 L173.28,192.08 L173.29,192.56 L173.30,193.04 L173.31,193.52 L173.32,194.00 L173.33,194.48 L173.35,194.97 L173.36,195.45 L173.37,195.93 L173.38,196.41 L173.39,196.89 L173.40,197.37 L173.41,197.86 L173.42,198.34 L173.44,198.82 L173.45,199.30 L173.46,199.79 L173.47,200.27 L173.49,200.75 L173.50,201.23 L173.52,201.72 L173.53,202.20 L173.55,202.68 L173.56,203.17 L173.58,203.65 L173.60,204.13 L173.61,204.61 L173.63,205.10 L173.65,205.58 L173.67,206.06 L173.69,206.55 L173.71,207.03 L173.74,207.51 L173.76,207.99 L173.79,208.47 L173.81,208.96 L173.84,209.44 L173.86,209.92 L173.89,210.40 L173.92,210.88 L173.95,211.36 L173.99,211.84 L174.02,212.32 L174.06,212.80 L174.09,213.28 L174.13,213.76 L174.17,214.23 L174.21,214.71 L174.25,215.19 L174.29,215.67 L174.34,216.14 L174.38,216.62 L174.43,217.10 L174.48,217.57 L174.53,218.05 L174.59,218.52 L174.64,218.99 L174.70,219.47 L174.75,219.94 L174.81,220.41 L174.88,220.88 L174.94,221.35 L175.01,221.82 L175.07,222.29 L175.14,222.76 L175.22,223.23 L175.29,223.69 L175.36,224.16 L175.44,224.63 L175.52,225.09 L175.60,225.56 L175.69,226.02 L175.77,226.49 L175.86,226.95 L175.95,227.41 L176.04,227.87 L176.14,228.33 L176.23,228.79 L176.33,229.25 L176.43,229.71 L176.54,230.17 L176.64,230.63 L176.75,231.08 L176.86,231.54 L176.97,231.99 L177.08,232.45 L177.20,232.90 L177.32,233.36 L177.44,233.81 L177.56,234.26 L177.69,234.71 L177.81,235.16 L177.94,235.61 L178.08,236.06 L178.21,236.51 L178.35,236.96 L178.49,237.40 L178.63,237.85 L178.78,238.29 L178.92,238.74 L179.07,239.18 L179.23,239.62 L179.38,240.07 L179.54,240.51 L179.70,240.95 L179.86,241.39 L180.02,241.83 L180.19,242.26 L180.36,242.70 L180.54,243.14 L180.71,243.57 L180.89,244.01 L181.07,244.44 L181.25,244.88 L181.44,245.31 L181.63,245.74 L181.82,246.17 L182.01,246.60 L182.21,247.03 L182.41,247.46 L182.61,247.89 L182.82,248.31 L183.03,248.74 L183.24,249.17 L183.45,249.59 L183.67,250.01 L183.89,250.44 L184.11,250.86 L184.34,251.28 L184.57,251.70 L184.80,252.12 L185.03,252.53 L185.27,252.95 L185.51,253.37 L185.75,253.78 L186.00,254.20 L186.25,254.61 L186.50,255.02 L186.75,255.44 L187.01,255.85 L187.27,256.26 L187.53,256.67 L187.79,257.08 L188.06,257.48 L188.33,257.89 L188.60,258.29 L188.87,258.70 L189.15,259.10 L189.42,259.51 L189.70,259.91 L189.99,260.31 L190.27,260.71 L190.56,261.11 L190.85,261.50 L191.14,261.90 L191.43,262.30 L191.72,262.69 L192.02,263.09 L192.32,263.48 L192.62,263.87 L192.92,264.26 L193.22,264.65 L193.53,265.04 L193.84,265.43 L194.14,265.82 L194.46,266.20 L194.77,266.59 L195.08,266.97 L195.39,267.36 L195.71,267.74 L196.03,268.12 L196.35,268.50 L196.67,268.88 L196.99,269.26 L197.31,269.63 L197.64,270.01 L197.96,270.38 L198.29,270.76 L198.61,271.13 L198.94,271.50 L199.27,271.87 L199.60,272.24 L199.93,272.61 L200.27,272.98 L200.60,273.35 L200.93,273.71 L201.27,274.08 L201.60,274.44 L201.94,274.80 L202.27,275.16 L202.61,275.52 L202.95,275.88 L203.29,276.24 L203.63,276.60 L203.97,276.95 L204.31,277.31 L204.65,277.66 L204.99,278.01 L205.33,278.36 L205.67,278.71 L206.01,279.06 L206.35,279.41 L206.70,279.76 L207.04,280.10 L207.38,280.45 L207.73,280.79 L208.07,281.13 L208.41,281.48 L208.76,281.82 L209.10,282.16 L209.45,282.50 L209.80,282.83 L210.14,283.17 L210.49,283.51 L210.83,283.84 L211.18,284.18 L211.53,284.51 L211.88,284.85 L212.23,285.18 L212.57,285.51 L212.92,285.84 L213.27,286.17 L213.62,286.50 L213.97,286.82 L214.32,287.15 L214.67,287.48 L215.02,287.80 L215.37,288.13 L215.72,288.45 L216.08,288.78 L216.43,289.10 L216.78,289.42 L217.13,289.74 L217.48,290.06 L217.84,290.38 L218.19,290.70 L218.54,291.02 L218.90,291.34 L219.25,291.65 L219.60,291.97 L219.96,292.29 L220.31,292.60 L220.67,292.92 L221.02,293.23 L221.38,293.54 L221.73,293.86 L222.09,294.17 L222.44,294.48 L222.80,294.79 L223.15,295.10 L223.51,295.41 L223.86,295.72 L224.22,296.03 L224.58,296.34 L224.93,296.65 L225.29,296.96 L225.65,297.26 L226.00,297.57 L226.36,297.88 L226.72,298.18 L227.08,298.49 L227.43,298.79 L227.79,299.10 L228.15,299.40 L228.51,299.71 L228.86,300.01 L229.22,300.32 L229.58,300.62 L229.94,300.92 L230.30,301.23 L230.65,301.53 L231.01,301.83 L231.37,302.13 L231.73,302.43 L232.09,302.73 L232.45,303.04 L232.80,303.34 L233.16,303.64 L233.52,303.94 L233.88,304.24 L234.24,304.54 L234.60,304.84 L234.96,305.14 L235.31,305.44 L235.67,305.74 L236.03,306.03 L236.39,306.33 L236.75,306.63 L237.11,306.93 L237.47,307.23 L237.82,307.53 L238.18,307.83 L238.54,308.13 L238.90,308.43 L239.26,308.72 L239.62,309.02 L239.97,309.32 L240.33,309.62 L240.69,309.92 L241.05,310.22 L241.41,310.52 L241.77,310.81 L242.12,311.11 L242.48,311.41 L242.84,311.71 L243.20,312.01 L243.55,312.31 L243.91,312.61 L244.27,312.91 L244.63,313.21 L244.98,313.50 L245.34,313.80 L245.70,314.10 L246.05,314.40 L246.41,314.70 L246.77,315.00 L247.12,315.31 L247.48,315.61 L247.83,315.91 L248.19,316.21 L248.55,316.51 L248.90,316.81 L249.26,317.11 L249.61,317.41 L249.97,317.72 L250.33,318.02 L250.68,318.32 L251.04,318.62 L251.39,318.92 L251.75,319.23 L252.11,319.53 L252.46,319.83 L252.82,320.14 L253.18,320.44 L253.54,320.74 L253.89,321.05 L254.25,321.35 L254.61,321.65 L254.97,321.96 L255.33,322.26 L255.69,322.57 L256.05,322.87 L256.41,323.17 L256.77,323.48 L257.13,323.78 L257.49,324.09 L257.85,324.39 L258.21,324.70 L258.58,325.00 L258.94,325.31 L259.30,325.61 L259.67,325.92 L260.03,326.22 L260.40,326.53 L260.76,326.83 L261.13,327.14 L261.50,327.45 L261.87,327.75 L262.23,328.06 L262.60,328.36 L262.97,328.67 L263.34,328.98 L263.72,329.28 L264.09,329.59 L264.46,329.89 L264.84,330.20 L265.21,330.51 L265.59,330.81 L265.96,331.12 L266.34,331.43 L266.72,331.73 L267.10,332.04 L267.48,332.35 L267.86,332.65 L268.24,332.96 L268.63,333.27 L269.01,333.57 L269.40,333.88 L269.78,334.19 L270.17,334.49 L270.56,334.80 L270.95,335.11 L271.34,335.41 L271.73,335.72 L272.12,336.03 L272.52,336.34 L272.91,336.64 L273.31,336.95 L273.71,337.26 L274.11,337.56 L274.51,337.87 L274.91,338.18 L275.32,338.48 L275.72,338.79 L276.13,339.10 L276.53,339.40 L276.94,339.71 L277.35,340.02 L277.76,340.33 L278.18,340.63 L278.59,340.94 L279.01,341.25 L279.43,341.55 L279.85,341.86 L280.27,342.17 L280.69,342.47 L281.11,342.78 L281.54,343.08 L281.97,343.39 L282.39,343.69 L282.82,344.00 L283.26,344.30 L283.69,344.60 L284.12,344.89 L284.56,345.18 L285.00,345.47 L285.43,345.76 L285.87,346.04 L286.31,346.32 L286.76,346.59 L287.20,346.86 L287.64,347.12 L288.09,347.37 L288.53,347.62 L288.98,347.86 L289.43,348.09 L289.88,348.32 L290.33,348.54 L290.78,348.75 L291.23,348.95 L291.68,349.14 L292.14,349.33 L292.59,349.50 L293.05,349.66 L293.50,349.81 L293.96,349.95 L294.41,350.08 L294.87,350.20 L295.33,350.31 L295.79,350.40 L296.25,350.48 L296.71,350.54 L297.17,350.60 L297.62,350.64 L298.08,350.66 L298.54,350.67 L298.99,350.66 L299.44,350.63 L299.88,350.59 L300.32,350.53 L300.75,350.45 L301.17,350.35 L301.58,350.23 L301.98,350.09 L302.37,349.93 L302.74,349.75 L303.10,349.55 L303.45,349.32 L303.78,349.07 L304.10,348.79 L304.41,348.50 L304.69,348.19 L304.97,347.85 L305.23,347.50 L305.48,347.14 L305.71,346.76 L305.93,346.36 L306.14,345.95 L306.33,345.52 L306.51,345.09 L306.68,344.64 L306.84,344.19 L306.98,343.72 L307.11,343.25 L307.23,342.77 L307.33,342.29 L307.42,341.80 L307.51,341.30 L307.58,340.81 L307.64,340.31 L307.68,339.81 L307.72,339.31 L307.75,338.81 L307.76,338.31 L307.77,337.82 L307.76,337.33 L307.74,336.84 L307.72,336.36 L307.68,335.89 L307.63,335.43 L307.58,334.97 L307.60,307.20" fill="none" stroke="#008000" stroke-width="2.3" stroke-linejoin="bevel"/><path d="M307.60,309.20 L307.60,301.20 L349.20,334.00" fill="none" stroke="#008000" stroke-width="2.3" stroke-linejoin="miter" stroke-miterlimit="10"/>
<path d="M56.27,302.85 L57.12,302.64 L57.97,302.42 L58.82,302.20 L59.66,301.98 L60.50,301.76 L61.34,301.54 L62.18,301.31 L63.01,301.09 L63.84,300.86 L64.67,300.63 L65.49,300.40 L66.32,300.17 L67.14,299.93 L67.96,299.70 L68.77,299.46 L69.59,299.23 L70.40,298.99 L71.22,298.75 L72.03,298.51 L72.83,298.27 L73.64,298.03 L74.45,297.78 L75.25,297.54 L76.05,297.30 L76.85,297.05 L77.65,296.80 L78.45,296.56 L79.25,296.31 L80.05,296.06 L80.84,295.81 L81.64,295.57 L82.43,295.32 L83.22,295.07 L84.01,294.82 L84.81,294.57 L85.60,294.32 L86.39,294.07 L87.18,293.81 L87.97,293.56 L88.76,293.31 L89.54,293.06 L90.33,292.81 L91.12,292.56 L91.91,292.31 L92.70,292.06 L93.49,291.81 L94.28,291.56 L95.07,291.31 L95.86,291.06 L96.65,290.81 L97.44,290.56 L98.23,290.31 L99.02,290.06 L99.81,289.81 L100.61,289.57 L101.40,289.32 L102.20,289.07 L102.99,288.83 L103.79,288.59 L104.59,288.34 L105.39,288.10 L106.19,287.86 L106.99,287.62 L107.79,287.38 L108.60,287.14 L109.40,286.90 L110.21,286.67 L111.02,286.43 L111.83,286.20 L112.64,285.96 L113.46,285.73 L114.27,285.50 L115.09,285.27 L115.91,285.05 L116.74,284.82 L117.56,284.60 L118.39,284.37 L119.21,284.15 L120.04,283.93 L120.88,283.71 L121.71,283.49 L122.54,283.27 L123.38,283.05 L124.21,282.83 L125.05,282.61 L125.89,282.39 L126.73,282.17 L127.57,281.95 L128.40,281.73 L129.24,281.51 L130.08,281.29 L130.92,281.07 L131.76,280.85 L132.60,280.62 L133.44,280.40 L134.28,280.17 L135.11,279.94 L135.95,279.71 L136.79,279.47 L137.62,279.24 L138.45,279.00 L139.29,278.76 L140.12,278.52 L140.94,278.27 L141.77,278.03 L142.60,277.77 L143.42,277.52 L144.24,277.26 L145.06,277.00 L145.88,276.74 L146.69,276.47 L147.50,276.20 L148.31,275.92 L149.12,275.64 L149.92,275.36 L150.72,275.07 L151.52,274.77 L152.31,274.48 L153.10,274.17 L153.88,273.86 L154.67,273.55 L155.44,273.23 L156.22,272.90 L156.99,272.57 L157.75,272.23 L158.51,271.88 L159.27,271.52 L160.02,271.16 L160.77,270.79 L161.51,270.41 L162.25,270.02 L162.98,269.63 L163.71,269.22 L164.43,268.81 L165.14,268.38 L165.85,267.95 L166.56,267.50 L167.26,267.05 L167.95,266.58 L168.63,266.10 L169.31,265.61 L169.98,265.11 L170.65,264.60 L171.31,264.08 L171.96,263.55 L172.60,263.00 L173.24,262.45 L173.87,261.89 L174.49,261.31 L175.10,260.73 L175.70,260.14 L176.30,259.54 L176.88,258.93 L177.46,258.31 L178.02,257.68 L178.58,257.04 L179.13,256.40 L179.66,255.75 L180.19,255.09 L180.70,254.42 L181.21,253.74 L181.70,253.06 L182.18,252.37 L182.65,251.67 L183.11,250.97 L183.55,250.26 L183.99,249.54 L184.41,248.82 L184.82,248.09 L185.21,247.36 L185.60,246.62 L185.96,245.87 L186.32,245.12 L186.66,244.37 L186.99,243.61 L187.31,242.84 L187.61,242.07 L187.90,241.30 L188.18,240.52 L188.45,239.74 L188.70,238.95 L188.94,238.16 L189.17,237.37 L189.39,236.58 L189.60,235.78 L189.80,234.98 L189.99,234.18 L190.17,233.37 L190.33,232.56 L190.49,231.75 L190.64,230.94 L190.78,230.13 L190.91,229.31 L191.03,228.50 L191.14,227.68 L191.24,226.86 L191.34,226.04 L191.43,225.22 L191.51,224.39 L191.59,223.57 L191.66,222.74 L191.72,221.91 L191.78,221.08 L191.83,220.25 L191.88,219.42 L191.93,218.58 L191.97,217.75 L192.00,216.91 L192.03,216.07 L192.06,215.23 L192.09,214.39 L192.11,213.55 L192.13,212.71 L192.15,211.87 L192.17,211.03 L192.19,210.18 L192.21,209.33 L192.22,208.49 L192.24,207.64 L192.25,206.79 L192.27,205.94 L192.28,205.09 L192.29,204.24 L192.31,203.39 L192.32,202.54 L192.33,201.69 L192.35,200.84 L192.36,199.98 L192.37,199.13 L192.39,198.27 L192.40,197.42 L192.41,196.56 L192.43,195.71 L192.44,194.85 L192.46,193.99 L192.48,193.14 L192.49,192.28 L192.51,191.42 L192.53,190.57 L192.54,189.71 L192.56,188.85 L192.58,187.99 L192.60,187.13 L192.62,186.28 L192.64,185.42 L192.66,184.56 L192.67,183.70 L192.69,182.85 L192.71,181.99 L192.73,181.13 L192.75,180.27 L192.77,179.42 L192.79,178.56 L192.81,177.70 L192.83,176.85 L192.84,175.99 L192.86,175.14 L192.88,174.28 L192.90,173.43 L192.92,172.57 L192.93,171.72 L192.95,170.87 L192.97,170.02 L192.98,169.16 L193.00,168.31 L193.01,167.46 L193.03,166.61 L193.04,165.77 L193.06,164.92 L193.07,164.07 L193.08,163.22 L193.09,162.38 L193.11,161.53 L193.12,160.69 L193.13,159.85 L193.13,159.01 L193.14,158.17 L193.15,157.33 L193.16,156.49 L193.16,155.65 L193.17,154.82 L193.17,153.98 L193.17,153.15 L193.17,152.32 L193.17,151.49 L193.17,150.66 L193.17,149.83 L193.17,149.00 L193.16,148.18 L193.16,147.35 L193.15,146.53 L193.14,145.71 L193.13,144.89 L193.12,144.07 L193.11,143.26 L193.10,142.44 L193.08,141.63 L193.07,140.82 L193.05,140.01 L193.05,140.01 L193.07,140.45 L193.08,140.90 L193.10,141.34 L193.12,141.79 L193.13,142.23 L193.15,142.68 L193.16,143.12 L193.18,143.57 L193.19,144.02 L193.20,144.46 L193.22,144.91 L193.23,145.36 L193.24,145.81 L193.25,146.25 L193.27,146.70 L193.28,147.15 L193.29,147.60 L193.30,148.05 L193.31,148.49 L193.32,148.94 L193.33,149.39 L193.34,149.84 L193.35,150.29 L193.36,150.74 L193.36,151.19 L193.37,151.64 L193.38,152.09 L193.39,152.54 L193.39,152.99 L193.40,153.44 L193.41,153.89 L193.41,154.34 L193.42,154.79 L193.43,155.25 L193.43,155.70 L193.44,156.15 L193.44,156.60 L193.45,157.05 L193.45,157.50 L193.46,157.96 L193.46,158.41 L193.46,158.86 L193.47,159.31 L193.47,159.77 L193.48,160.22 L193.48,160.67 L193.48,161.13 L193.48,161.58 L193.49,162.03 L193.49,162.49 L193.49,162.94 L193.49,163.39 L193.50,163.85 L193.50,164.30 L193.50,164.76 L193.50,165.21 L193.50,165.66 L193.50,166.12 L193.50,166.57 L193.51,167.03 L193.51,167.48 L193.51,167.94 L193.51,168.39 L193.51,168.85 L193.51,169.30 L193.51,169.76 L193.51,170.21 L193.51,170.67 L193.51,171.12 L193.51,171.58 L193.51,172.04 L193.51,172.49 L193.51,172.95 L193.51,173.40 L193.51,173.86 L193.51,174.32 L193.51,174.77 L193.51,175.23 L193.51,175.68 L193.51,176.14 L193.51,176.60 L193.51,177.05 L193.51,177.51 L193.51,177.97 L193.51,178.42 L193.51,178.88 L193.51,179.33 L193.51,179.79 L193.51,180.25 L193.51,180.70 L193.51,181.16 L193.51,181.62 L193.51,182.07 L193.51,182.53 L193.51,182.99 L193.51,183.44 L193.52,183.90 L193.52,184.36 L193.52,184.81 L193.52,185.27 L193.52,185.73 L193.52,186.18 L193.52,186.64 L193.52,187.10 L193.52,187.56 L193.53,188.01 L193.53,188.47 L193.53,188.93 L193.53,189.38 L193.53,189.84 L193.54,190.30 L193.54,190.75 L193.54,191.21 L193.55,191.67 L193.55,192.12 L193.55,192.58 L193.56,193.04 L193.56,193.49 L193.56,193.95 L193.57,194.40 L193.57,194.86 L193.58,195.32 L193.58,195.77 L193.59,196.23 L193.59,196.69 L193.60,197.14 L193.60,197.60 L193.61,198.05 L193.62,198.51 L193.62,198.97 L193.63,199.42 L193.64,199.88 L193.65,200.33 L193.65,200.79 L193.66,201.24 L193.67,201.70 L193.68,202.15 L193.69,202.61 L193.70,203.07 L193.71,203.52 L193.72,203.98 L193.73,204.43 L193.74,204.89 L193.75,205.34 L193.76,205.79 L193.77,206.25 L193.79,206.70 L193.80,207.16 L193.81,207.61 L193.82,208.07 L193.84,208.52 L193.85,208.97 L193.87,209.43 L193.88,209.88 L193.90,210.33 L193.91,210.79 L193.93,211.24 L193.95,211.69 L193.96,212.15 L193.98,212.60 L194.00,213.05 L194.02,213.51 L194.03,213.96 L194.05,214.41 L194.07,214.86 L194.09,215.31 L194.11,215.77 L194.14,216.22 L194.16,216.67 L194.18,217.12 L194.20,217.57 L194.23,218.02 L194.25,218.47 L194.27,218.92 L194.30,219.37 L194.32,219.82 L194.35,220.27 L194.38,220.72 L194.40,221.17 L194.43,221.62 L194.46,222.07 L194.49,222.52 L194.51,222.97 L194.54,223.42 L194.57,223.87 L194.61,224.32 L194.64,224.77 L194.67,225.21 L194.70,225.66 L194.74,226.11 L194.77,226.56 L194.81,227.00 L194.85,227.45 L194.89,227.90 L194.93,228.35 L194.97,228.79 L195.01,229.24 L195.05,229.68 L195.10,230.13 L195.14,230.57 L195.19,231.02 L195.24,231.47 L195.29,231.91 L195.34,232.35 L195.39,232.80 L195.45,233.24 L195.50,233.69 L195.56,234.13 L195.62,234.57 L195.68,235.02 L195.74,235.46 L195.81,235.90 L195.88,236.34 L195.94,236.79 L196.01,237.23 L196.09,237.67 L196.16,238.11 L196.24,238.55 L196.32,238.99 L196.40,239.43 L196.48,239.87 L196.57,240.31 L196.65,240.75 L196.74,241.19 L196.84,241.63 L196.93,242.07 L197.03,242.51 L197.13,242.95 L197.23,243.38 L197.33,243.82 L197.44,244.26 L197.55,244.69 L197.66,245.13 L197.78,245.57 L197.90,246.00 L198.02,246.44 L198.14,246.87 L198.27,247.31 L198.40,247.74 L198.53,248.18 L198.67,248.61 L198.81,249.05 L198.95,249.48 L199.09,249.91 L199.24,250.35 L199.39,250.78 L199.55,251.21 L199.71,251.64 L199.87,252.07 L200.03,252.50 L200.20,252.93 L200.37,253.36 L200.54,253.79 L200.72,254.22 L200.90,254.65 L201.08,255.08 L201.27,255.50 L201.46,255.93 L201.65,256.35 L201.84,256.78 L202.04,257.20 L202.24,257.62 L202.44,258.04 L202.65,258.46 L202.86,258.88 L203.07,259.30 L203.28,259.72 L203.50,260.14 L203.72,260.55 L203.94,260.96 L204.16,261.38 L204.39,261.79 L204.62,262.20 L204.85,262.61 L205.08,263.01 L205.32,263.42 L205.55,263.82 L205.79,264.23 L206.04,264.63 L206.28,265.03 L206.53,265.42 L206.78,265.82 L207.03,266.22 L207.28,266.61 L207.54,267.00 L207.80,267.39 L208.06,267.78 L208.32,268.16 L208.58,268.55 L208.85,268.93 L209.11,269.31 L209.38,269.68 L209.65,270.06 L209.92,270.43 L210.20,270.80 L210.47,271.17 L210.75,271.54 L211.03,271.90 L211.31,272.27 L211.59,272.63 L211.88,272.98 L212.16,273.34 L212.45,273.69 L212.74,274.04 L213.03,274.39 L213.32,274.74 L213.61,275.08 L213.90,275.42 L214.20,275.76 L214.50,276.10 L214.79,276.44 L215.09,276.78 L215.39,277.11 L215.69,277.44 L215.99,277.77 L216.30,278.10 L216.60,278.42 L216.91,278.75 L217.21,279.07 L217.52,279.40 L217.83,279.72 L218.13,280.04 L218.44,280.36 L218.75,280.67 L219.06,280.99 L219.38,281.31 L219.69,281.62 L220.00,281.94 L220.31,282.25 L220.63,282.56 L220.94,282.87 L221.26,283.18 L221.57,283.49 L221.89,283.80 L222.21,284.11 L222.52,284.42 L222.84,284.73 L223.16,285.04 L223.48,285.35 L223.80,285.65 L224.12,285.96 L224.43,286.27 L224.75,286.58 L225.07,286.88 L225.39,287.19 L225.71,287.50 L226.03,287.81 L226.35,288.11 L226.67,288.42 L226.99,288.73 L227.31,289.04 L227.63,289.35 L227.95,289.66 L228.26,289.97 L228.58,290.28 L228.90,290.59 L229.22,290.90 L229.54,291.22 L229.86,291.53 L230.17,291.84 L230.49,292.16 L230.81,292.47 L231.13,292.79 L231.44,293.10 L231.76,293.42 L232.08,293.73 L232.40,294.05 L232.71,294.37 L233.03,294.69 L233.35,295.00 L233.66,295.32 L233.98,295.64 L234.30,295.96 L234.62,296.28 L234.93,296.60 L235.25,296.92 L235.57,297.24 L235.88,297.56 L236.20,297.88 L236.52,298.20 L236.83,298.52 L237.15,298.84 L237.47,299.16 L237.79,299.48 L238.10,299.81 L238.42,300.13 L238.74,300.45 L239.06,300.77 L239.38,301.09 L239.69,301.42 L240.01,301.74 L240.33,302.06 L240.65,302.38 L240.97,302.71 L241.29,303.03 L241.60,303.35 L241.92,303.67 L242.24,304.00 L242.56,304.32 L242.88,304.64 L243.20,304.96 L243.52,305.29 L243.84,305.61 L244.16,305.93 L244.49,306.25 L244.81,306.58 L245.13,306.90 L245.45,307.22 L245.77,307.54 L246.10,307.86 L246.42,308.18 L246.74,308.51 L247.07,308.83 L247.39,309.15 L247.71,309.47 L248.04,309.79 L248.36,310.11 L248.69,310.43 L249.02,310.75 L249.34,311.07 L249.67,311.38 L250.00,311.70 L250.32,312.02 L250.65,312.34 L250.98,312.66 L251.31,312.97 L251.64,313.29 L251.97,313.61 L252.30,313.92 L252.63,314.24 L252.96,314.55 L253.29,314.87 L253.62,315.18 L253.96,315.49 L254.29,315.81 L254.62,316.12 L254.96,316.43 L255.29,316.74 L255.63,317.05 L255.97,317.36 L256.30,317.67 L256.64,317.98 L256.98,318.29 L257.32,318.60 L257.66,318.91 L258.00,319.21 L258.34,319.52 L258.68,319.83 L259.02,320.13 L259.36,320.43 L259.71,320.74 L260.05,321.04 L260.40,321.34 L260.74,321.64 L261.09,321.94 L261.43,322.24 L261.78,322.54 L262.13,322.84 L262.48,323.14 L262.83,323.43 L263.18,323.73 L263.53,324.02 L263.88,324.31 L264.24,324.61 L264.59,324.90 L264.94,325.19 L265.30,325.48 L265.66,325.77 L266.01,326.06 L266.37,326.34 L266.73,326.63 L267.09,326.92 L267.45,327.20 L267.81,327.48 L268.18,327.77 L268.54,328.05 L268.90,328.33 L269.27,328.61 L269.63,328.88 L270.00,329.16 L270.37,329.44 L270.74,329.71 L271.11,329.98 L271.48,330.26 L271.85,330.53 L272.22,330.80 L272.60,331.07 L272.97,331.33 L273.35,331.60 L273.73,331.86 L274.10,332.13 L274.48,332.39 L274.86,332.65 L275.24,332.91 L275.63,333.17 L276.01,333.43 L276.39,333.68 L276.78,333.94 L277.17,334.19 L277.56,334.44 L277.94,334.69 L278.33,334.94 L278.73,335.19 L279.12,335.44 L279.51,335.68 L279.91,335.93 L280.30,336.17 L280.70,336.41 L281.10,336.65 L281.50,336.89 L281.90,337.12 L282.30,337.36 L282.70,337.59 L283.11,337.82 L283.51,338.05 L283.92,338.28 L284.33,338.51 L284.74,338.73 L285.15,338.95 L285.56,339.18 L285.98,339.40 L286.39,339.62 L286.81,339.83 L287.23,340.05 L287.64,340.26 L288.06,340.47 L288.49,340.68 L288.91,340.89 L289.33,341.10 L289.76,341.30 L290.19,341.51 L290.62,341.71 L291.05,341.91 L291.48,342.10 L291.91,342.30 L292.34,342.49 L292.78,342.69 L293.22,342.87 L293.65,343.06 L294.09,343.23 L294.53,343.40 L294.96,343.57 L295.40,343.73 L295.83,343.87 L296.26,344.01 L296.69,344.14 L297.12,344.26 L297.55,344.36 L297.97,344.45 L298.39,344.53 L298.80,344.60 L299.21,344.64 L299.62,344.68 L300.02,344.69 L300.42,344.69 L300.81,344.66 L301.20,344.62 L301.58,344.56 L301.95,344.48 L302.31,344.37 L302.66,344.24 L303.00,344.09 L303.33,343.91 L303.65,343.71 L303.95,343.48 L304.24,343.22 L304.51,342.94 L304.78,342.65 L305.02,342.32 L305.26,341.98 L305.48,341.63 L305.70,341.25 L305.89,340.86 L306.08,340.45 L306.26,340.03 L306.42,339.60 L306.58,339.15 L306.72,338.70 L306.85,338.23 L306.97,337.76 L307.08,337.28 L307.18,336.80 L307.27,336.31 L307.36,335.82 L307.43,335.33 L307.49,334.84 L307.55,334.35 L307.59,333.86 L307.63,333.37 L307.66,332.89 L307.68,332.42 L307.69,331.95 L307.70,331.48 L307.70,331.03 L307.69,330.59 L307.67,330.16 L307.65,329.74 L307.62,329.34 L307.58,328.95 L307.60,300.80" fill="none" stroke="#0000ff" stroke-width="2.3" stroke-linejoin="bevel"/><path d="M307.60,302.80 L307.60,294.80 L349.20,328.50" fill="none" stroke="#0000ff" stroke-width="2.3" stroke-linejoin="miter" stroke-miterlimit="10"/>
<path d="M56.25,319.98 L57.27,319.71 L58.29,319.44 L59.31,319.16 L60.32,318.89 L61.33,318.61 L62.34,318.33 L63.35,318.05 L64.35,317.76 L65.35,317.48 L66.35,317.19 L67.34,316.91 L68.33,316.62 L69.32,316.33 L70.31,316.04 L71.30,315.75 L72.28,315.46 L73.26,315.16 L74.24,314.87 L75.22,314.57 L76.19,314.28 L77.17,313.98 L78.14,313.69 L79.11,313.39 L80.08,313.09 L81.05,312.79 L82.02,312.50 L82.98,312.20 L83.95,311.90 L84.91,311.60 L85.87,311.30 L86.84,311.00 L87.80,310.70 L88.76,310.40 L89.72,310.10 L90.68,309.80 L91.64,309.50 L92.60,309.20 L93.56,308.90 L94.52,308.60 L95.48,308.30 L96.44,308.00 L97.40,307.70 L98.36,307.40 L99.32,307.11 L100.28,306.81 L101.24,306.52 L102.21,306.22 L103.17,305.93 L104.13,305.63 L105.10,305.34 L106.07,305.05 L107.03,304.76 L108.00,304.47 L108.97,304.18 L109.94,303.89 L110.91,303.60 L111.89,303.32 L112.86,303.03 L113.84,302.75 L114.82,302.47 L115.80,302.19 L116.79,301.91 L117.77,301.63 L118.76,301.36 L119.75,301.08 L120.74,300.81 L121.73,300.54 L122.72,300.27 L123.72,300.00 L124.71,299.73 L125.71,299.46 L126.71,299.20 L127.71,298.93 L128.71,298.66 L129.71,298.40 L130.72,298.13 L131.72,297.87 L132.72,297.61 L133.73,297.34 L134.73,297.08 L135.74,296.82 L136.74,296.56 L137.75,296.29 L138.76,296.03 L139.76,295.77 L140.77,295.51 L141.77,295.24 L142.78,294.98 L143.78,294.72 L144.79,294.45 L145.79,294.19 L146.80,293.93 L147.80,293.66 L148.80,293.39 L149.80,293.13 L150.80,292.86 L151.80,292.59 L152.80,292.32 L153.80,292.05 L154.79,291.78 L155.79,291.50 L156.78,291.22 L157.77,290.94 L158.76,290.65 L159.75,290.37 L160.73,290.07 L161.72,289.78 L162.70,289.47 L163.68,289.17 L164.66,288.85 L165.63,288.54 L166.60,288.21 L167.57,287.88 L168.54,287.54 L169.51,287.20 L170.47,286.85 L171.43,286.49 L172.39,286.12 L173.34,285.75 L174.29,285.36 L175.24,284.97 L176.18,284.57 L177.12,284.15 L178.06,283.73 L178.99,283.30 L179.92,282.85 L180.85,282.40 L181.77,281.93 L182.69,281.45 L183.60,280.96 L184.51,280.46 L185.41,279.95 L186.31,279.42 L187.20,278.88 L188.07,278.33 L188.94,277.77 L189.80,277.19 L190.65,276.60 L191.48,276.00 L192.30,275.39 L193.11,274.76 L193.90,274.12 L194.68,273.47 L195.44,272.80 L196.18,272.12 L196.91,271.43 L197.61,270.73 L198.30,270.01 L198.96,269.27 L199.60,268.53 L200.23,267.77 L200.82,266.99 L201.40,266.21 L201.95,265.40 L202.48,264.59 L202.98,263.76 L203.47,262.92 L203.93,262.07 L204.38,261.21 L204.80,260.34 L205.21,259.46 L205.59,258.56 L205.96,257.66 L206.32,256.75 L206.65,255.83 L206.97,254.90 L207.28,253.96 L207.57,253.02 L207.84,252.07 L208.11,251.11 L208.36,250.15 L208.60,249.18 L208.82,248.21 L209.04,247.23 L209.24,246.24 L209.44,245.26 L209.63,244.27 L209.80,243.27 L209.97,242.28 L210.14,241.28 L210.29,240.28 L210.45,239.28 L210.59,238.27 L210.73,237.27 L210.86,236.26 L210.99,235.26 L211.12,234.25 L211.24,233.25 L211.35,232.24 L211.46,231.23 L211.56,230.22 L211.66,229.21 L211.76,228.20 L211.85,227.18 L211.94,226.17 L212.02,225.16 L212.10,224.14 L212.17,223.13 L212.24,222.11 L212.31,221.10 L212.37,220.08 L212.42,219.06 L212.48,218.04 L212.53,217.02 L212.58,216.00 L212.62,214.98 L212.66,213.96 L212.69,212.94 L212.73,211.92 L212.76,210.90 L212.79,209.88 L212.81,208.85 L212.83,207.83 L212.85,206.81 L212.87,205.78 L212.88,204.76 L212.89,203.73 L212.90,202.70 L212.90,201.68 L212.91,200.65 L212.91,199.63 L212.91,198.60 L212.90,197.57 L212.90,196.54 L212.89,195.52 L212.88,194.49 L212.87,193.46 L212.86,192.43 L212.85,191.40 L212.83,190.38 L212.82,189.35 L212.80,188.32 L212.78,187.29 L212.76,186.26 L212.74,185.23 L212.72,184.20 L212.70,183.17 L212.67,182.14 L212.65,181.11 L212.63,180.08 L212.60,179.05 L212.58,178.03 L212.55,177.00 L212.52,175.97 L212.50,174.94 L212.47,173.91 L212.45,172.88 L212.42,171.85 L212.39,170.82 L212.37,169.80 L212.34,168.77 L212.32,167.74 L212.30,166.71 L212.27,165.69 L212.25,164.66 L212.23,163.63 L212.21,162.61 L212.19,161.58 L212.17,160.55 L212.15,159.53 L212.13,158.50 L212.12,157.48 L212.10,156.45 L212.09,155.43 L212.08,154.41 L212.07,153.39 L212.06,152.36 L212.06,151.34 L212.05,150.32 L212.05,149.30 L212.05,148.28 L212.06,147.26 L212.06,146.24 L212.07,145.22 L212.08,144.20 L212.09,143.19 L212.10,142.17 L212.12,141.15 L212.14,140.14 L212.16,139.12 L212.19,138.11 L212.22,137.10 L212.25,136.08 L212.29,135.07 L212.32,134.06 L212.37,133.05 L212.41,132.04 L212.46,131.04 L212.51,130.03 L212.57,129.02 L212.63,128.02 L212.69,127.01 L212.76,126.01 L212.83,125.00 L212.91,124.00 L212.99,123.00 L213.07,122.00 L213.16,121.00 L213.26,120.00 L213.25,120.00 L213.26,120.45 L213.27,120.91 L213.28,121.36 L213.29,121.81 L213.29,122.26 L213.30,122.71 L213.31,123.16 L213.32,123.62 L213.32,124.07 L213.33,124.52 L213.34,124.97 L213.34,125.43 L213.35,125.88 L213.36,126.33 L213.36,126.79 L213.37,127.24 L213.38,127.70 L213.38,128.15 L213.39,128.61 L213.39,129.06 L213.40,129.52 L213.40,129.97 L213.41,130.43 L213.41,130.88 L213.42,131.34 L213.42,131.79 L213.42,132.25 L213.43,132.71 L213.43,133.16 L213.44,133.62 L213.44,134.08 L213.44,134.54 L213.45,134.99 L213.45,135.45 L213.45,135.91 L213.46,136.37 L213.46,136.82 L213.46,137.28 L213.46,137.74 L213.47,138.20 L213.47,138.66 L213.47,139.12 L213.47,139.58 L213.48,140.04 L213.48,140.50 L213.48,140.96 L213.48,141.42 L213.48,141.88 L213.48,142.34 L213.49,142.80 L213.49,143.26 L213.49,143.72 L213.49,144.18 L213.49,144.64 L213.49,145.10 L213.49,145.56 L213.49,146.02 L213.49,146.48 L213.50,146.94 L213.50,147.41 L213.50,147.87 L213.50,148.33 L213.50,148.79 L213.50,149.25 L213.50,149.72 L213.50,150.18 L213.50,150.64 L213.50,151.10 L213.50,151.57 L213.50,152.03 L213.50,152.49 L213.50,152.96 L213.50,153.42 L213.50,153.88 L213.50,154.35 L213.50,154.81 L213.50,155.27 L213.50,155.74 L213.50,156.20 L213.50,156.66 L213.50,157.13 L213.50,157.59 L213.50,158.06 L213.50,158.52 L213.50,158.99 L213.50,159.45 L213.50,159.91 L213.49,160.38 L213.49,160.84 L213.49,161.31 L213.49,161.77 L213.49,162.24 L213.49,162.70 L213.49,163.17 L213.49,163.63 L213.49,164.10 L213.49,164.56 L213.49,165.03 L213.49,165.49 L213.49,165.96 L213.49,166.43 L213.49,166.89 L213.49,167.36 L213.49,167.82 L213.49,168.29 L213.49,168.75 L213.49,169.22 L213.49,169.69 L213.49,170.15 L213.49,170.62 L213.49,171.08 L213.49,171.55 L213.49,172.02 L213.49,172.48 L213.49,172.95 L213.49,173.41 L213.49,173.88 L213.49,174.35 L213.49,174.81 L213.50,175.28 L213.50,175.74 L213.50,176.21 L213.50,176.68 L213.50,177.14 L213.50,177.61 L213.50,178.08 L213.50,178.54 L213.50,179.01 L213.51,179.48 L213.51,179.94 L213.51,180.41 L213.51,180.87 L213.51,181.34 L213.51,181.81 L213.52,182.27 L213.52,182.74 L213.52,183.21 L213.52,183.67 L213.53,184.14 L213.53,184.60 L213.53,185.07 L213.54,185.54 L213.54,186.00 L213.54,186.47 L213.54,186.94 L213.55,187.40 L213.55,187.87 L213.56,188.33 L213.56,188.80 L213.56,189.27 L213.57,189.73 L213.57,190.20 L213.58,190.66 L213.58,191.13 L213.59,191.60 L213.59,192.06 L213.60,192.53 L213.60,192.99 L213.61,193.46 L213.61,193.92 L213.62,194.39 L213.62,194.85 L213.63,195.32 L213.64,195.79 L213.64,196.25 L213.65,196.72 L213.66,197.18 L213.66,197.65 L213.67,198.11 L213.68,198.58 L213.69,199.04 L213.69,199.51 L213.70,199.97 L213.71,200.44 L213.72,200.90 L213.73,201.36 L213.74,201.83 L213.75,202.29 L213.75,202.76 L213.76,203.22 L213.77,203.69 L213.78,204.15 L213.79,204.61 L213.80,205.08 L213.81,205.54 L213.83,206.00 L213.84,206.47 L213.85,206.93 L213.86,207.39 L213.87,207.86 L213.88,208.32 L213.90,208.78 L213.91,209.25 L213.92,209.71 L213.93,210.17 L213.95,210.63 L213.96,211.10 L213.97,211.56 L213.99,212.02 L214.00,212.48 L214.02,212.94 L214.03,213.41 L214.05,213.87 L214.06,214.33 L214.08,214.79 L214.09,215.25 L214.11,215.71 L214.13,216.17 L214.14,216.63 L214.16,217.09 L214.18,217.55 L214.19,218.01 L214.21,218.47 L214.23,218.93 L214.25,219.39 L214.27,219.85 L214.29,220.31 L214.31,220.77 L214.33,221.23 L214.35,221.69 L214.37,222.15 L214.39,222.61 L214.41,223.07 L214.44,223.53 L214.46,223.98 L214.48,224.44 L214.51,224.90 L214.53,225.36 L214.56,225.81 L214.59,226.27 L214.61,226.73 L214.64,227.19 L214.67,227.64 L214.70,228.10 L214.73,228.56 L214.76,229.01 L214.80,229.47 L214.83,229.92 L214.87,230.38 L214.90,230.83 L214.94,231.29 L214.98,231.74 L215.01,232.20 L215.05,232.65 L215.10,233.11 L215.14,233.56 L215.18,234.02 L215.23,234.47 L215.27,234.92 L215.32,235.38 L215.37,235.83 L215.42,236.28 L215.47,236.73 L215.52,237.19 L215.57,237.64 L215.63,238.09 L215.68,238.54 L215.74,238.99 L215.80,239.45 L215.86,239.90 L215.93,240.35 L215.99,240.80 L216.06,241.25 L216.12,241.70 L216.19,242.15 L216.26,242.60 L216.33,243.05 L216.41,243.50 L216.48,243.94 L216.56,244.39 L216.64,244.84 L216.72,245.29 L216.81,245.74 L216.89,246.18 L216.98,246.63 L217.07,247.08 L217.16,247.52 L217.25,247.97 L217.35,248.42 L217.44,248.86 L217.54,249.31 L217.64,249.75 L217.74,250.20 L217.85,250.64 L217.96,251.09 L218.07,251.53 L218.18,251.98 L218.29,252.42 L218.41,252.86 L218.53,253.31 L218.65,253.75 L218.77,254.19 L218.90,254.63 L219.03,255.07 L219.16,255.52 L219.29,255.96 L219.42,256.40 L219.56,256.84 L219.70,257.28 L219.84,257.72 L219.99,258.16 L220.13,258.60 L220.28,259.03 L220.43,259.47 L220.59,259.91 L220.74,260.35 L220.90,260.78 L221.06,261.22 L221.22,261.65 L221.38,262.09 L221.55,262.52 L221.72,262.96 L221.89,263.39 L222.06,263.82 L222.23,264.26 L222.41,264.69 L222.59,265.12 L222.77,265.55 L222.95,265.98 L223.14,266.41 L223.32,266.84 L223.51,267.27 L223.70,267.69 L223.90,268.12 L224.09,268.55 L224.29,268.97 L224.49,269.39 L224.69,269.82 L224.89,270.24 L225.09,270.66 L225.30,271.09 L225.51,271.51 L225.72,271.93 L225.93,272.35 L226.14,272.76 L226.36,273.18 L226.57,273.60 L226.79,274.01 L227.01,274.43 L227.24,274.84 L227.46,275.26 L227.69,275.67 L227.91,276.08 L228.14,276.49 L228.38,276.90 L228.61,277.31 L228.84,277.71 L229.08,278.12 L229.32,278.53 L229.56,278.93 L229.80,279.33 L230.04,279.74 L230.28,280.14 L230.53,280.54 L230.78,280.94 L231.03,281.34 L231.28,281.73 L231.53,282.13 L231.78,282.52 L232.04,282.92 L232.30,283.31 L232.55,283.70 L232.81,284.09 L233.07,284.48 L233.34,284.87 L233.60,285.26 L233.87,285.64 L234.13,286.03 L234.40,286.41 L234.67,286.79 L234.94,287.17 L235.22,287.55 L235.49,287.93 L235.76,288.31 L236.04,288.68 L236.32,289.06 L236.60,289.43 L236.88,289.80 L237.16,290.17 L237.44,290.54 L237.73,290.91 L238.01,291.27 L238.30,291.64 L238.59,292.00 L238.88,292.36 L239.17,292.72 L239.46,293.08 L239.75,293.44 L240.04,293.79 L240.34,294.15 L240.64,294.50 L240.93,294.85 L241.23,295.20 L241.53,295.55 L241.83,295.90 L242.13,296.24 L242.44,296.59 L242.74,296.93 L243.04,297.27 L243.35,297.61 L243.66,297.94 L243.96,298.28 L244.27,298.61 L244.58,298.95 L244.89,299.28 L245.20,299.61 L245.52,299.93 L245.83,300.26 L246.14,300.58 L246.46,300.90 L246.77,301.22 L247.09,301.54 L247.41,301.86 L247.73,302.17 L248.05,302.49 L248.37,302.80 L248.69,303.11 L249.01,303.42 L249.33,303.73 L249.66,304.04 L249.98,304.34 L250.31,304.64 L250.64,304.95 L250.96,305.25 L251.29,305.55 L251.62,305.85 L251.95,306.15 L252.28,306.44 L252.61,306.74 L252.95,307.03 L253.28,307.33 L253.62,307.62 L253.95,307.91 L254.29,308.20 L254.62,308.49 L254.96,308.78 L255.30,309.07 L255.64,309.36 L255.98,309.65 L256.32,309.94 L256.67,310.22 L257.01,310.51 L257.35,310.79 L257.70,311.08 L258.05,311.36 L258.39,311.64 L258.74,311.93 L259.09,312.21 L259.44,312.49 L259.79,312.77 L260.14,313.06 L260.49,313.34 L260.84,313.62 L261.20,313.90 L261.55,314.18 L261.91,314.46 L262.27,314.74 L262.62,315.02 L262.98,315.30 L263.34,315.58 L263.70,315.87 L264.06,316.15 L264.42,316.43 L264.79,316.71 L265.15,316.99 L265.51,317.27 L265.88,317.56 L266.24,317.84 L266.61,318.12 L266.98,318.40 L267.35,318.69 L267.72,318.97 L268.09,319.26 L268.46,319.54 L268.83,319.83 L269.20,320.11 L269.58,320.40 L269.95,320.69 L270.33,320.98 L270.70,321.27 L271.08,321.56 L271.46,321.85 L271.84,322.14 L272.22,322.43 L272.60,322.73 L272.98,323.02 L273.36,323.32 L273.75,323.61 L274.13,323.91 L274.51,324.21 L274.90,324.51 L275.29,324.81 L275.67,325.11 L276.06,325.42 L276.45,325.72 L276.84,326.03 L277.23,326.33 L277.62,326.64 L278.02,326.95 L278.41,327.27 L278.80,327.58 L279.20,327.89 L279.60,328.21 L279.99,328.53 L280.39,328.85 L280.79,329.17 L281.19,329.49 L281.59,329.82 L281.99,330.14 L282.39,330.47 L282.79,330.80 L283.20,331.13 L283.60,331.46 L284.01,331.78 L284.41,332.11 L284.82,332.43 L285.23,332.76 L285.63,333.08 L286.04,333.39 L286.45,333.71 L286.86,334.02 L287.27,334.32 L287.68,334.62 L288.09,334.92 L288.50,335.21 L288.92,335.50 L289.33,335.78 L289.74,336.05 L290.16,336.31 L290.57,336.57 L290.99,336.82 L291.40,337.06 L291.82,337.29 L292.23,337.51 L292.65,337.72 L293.06,337.92 L293.48,338.11 L293.90,338.29 L294.32,338.46 L294.73,338.61 L295.15,338.76 L295.57,338.89 L295.99,339.00 L296.41,339.11 L296.82,339.19 L297.24,339.27 L297.66,339.33 L298.08,339.37 L298.49,339.40 L298.91,339.41 L299.32,339.40 L299.72,339.37 L300.13,339.33 L300.52,339.27 L300.91,339.19 L301.30,339.08 L301.67,338.96 L302.04,338.82 L302.40,338.65 L302.75,338.47 L303.09,338.26 L303.42,338.03 L303.73,337.77 L304.04,337.50 L304.33,337.20 L304.61,336.88 L304.87,336.54 L305.12,336.18 L305.36,335.80 L305.57,335.40 L305.78,334.99 L305.97,334.56 L306.14,334.11 L306.30,333.65 L306.45,333.19 L306.59,332.71 L306.71,332.22 L306.82,331.72 L306.92,331.22 L307.02,330.72 L307.10,330.21 L307.17,329.70 L307.23,329.19 L307.29,328.67 L307.34,328.17 L307.38,327.66 L307.41,327.16 L307.44,326.66 L307.46,326.17 L307.48,325.70 L307.49,325.23 L307.50,324.77 L307.50,324.32 L307.50,323.89 L307.50,323.48 L307.50,323.08 L307.49,322.70 L307.49,322.33 L307.48,321.99 L307.60,294.50" fill="none" stroke="#ff0000" stroke-width="2.3" stroke-linejoin="bevel"/><path d="M307.60,296.50 L307.60,288.50 L349.20,322.80" fill="none" stroke="#ff0000" stroke-width="2.3" stroke-linejoin="miter" stroke-miterlimit="10"/>
</g>
<g clip-path="url(#clipinset2)">
<path d="M56.49,343.59 L57.58,343.31 L58.67,343.02 L59.77,342.73 L60.86,342.44 L61.96,342.14 L63.06,341.84 L64.16,341.54 L65.27,341.23 L66.37,340.92 L67.48,340.60 L68.58,340.28 L69.69,339.96 L70.80,339.64 L71.92,339.31 L73.03,338.99 L74.15,338.66 L75.26,338.32 L76.38,337.99 L77.50,337.65 L78.62,337.31 L79.74,336.97 L80.86,336.63 L81.98,336.28 L83.11,335.93 L84.23,335.59 L85.35,335.24 L86.48,334.89 L87.60,334.53 L88.73,334.18 L89.86,333.83 L90.98,333.47 L92.11,333.12 L93.24,332.76 L94.37,332.40 L95.50,332.05 L96.62,331.69 L97.75,331.33 L98.88,330.97 L100.01,330.62 L101.14,330.26 L102.26,329.90 L103.39,329.55 L104.52,329.19 L105.64,328.83 L106.77,328.48 L107.90,328.12 L109.02,327.77 L110.14,327.42 L111.27,327.07 L112.39,326.72 L113.51,326.37 L114.63,326.02 L115.75,325.67 L116.87,325.33 L117.99,324.98 L119.11,324.64 L120.23,324.30 L121.34,323.97 L122.45,323.63 L123.57,323.30 L124.68,322.97 L125.79,322.64 L126.89,322.32 L128.00,321.99 L129.10,321.67 L130.21,321.36 L131.31,321.04 L132.41,320.73 L133.51,320.42 L134.61,320.11 L135.71,319.80 L136.81,319.49 L137.90,319.19 L139.00,318.88 L140.09,318.58 L141.19,318.28 L142.29,317.98 L143.38,317.68 L144.48,317.38 L145.57,317.09 L146.67,316.79 L147.77,316.49 L148.86,316.19 L149.96,315.90 L151.06,315.60 L152.16,315.30 L153.26,315.01 L154.36,314.71 L155.46,314.41 L156.57,314.11 L157.67,313.81 L158.78,313.51 L159.88,313.21 L160.99,312.91 L162.10,312.60 L163.22,312.30 L164.33,311.99 L165.45,311.68 L166.57,311.37 L167.69,311.06 L168.81,310.74 L169.94,310.43 L171.07,310.11 L172.20,309.79 L173.34,309.46 L174.47,309.13 L175.62,308.80 L176.76,308.47 L177.91,308.14 L179.06,307.80 L180.21,307.45 L181.37,307.11 L182.53,306.76 L183.70,306.41 L184.86,306.05 L186.04,305.69 L187.21,305.32 L188.39,304.95 L189.56,304.57 L190.74,304.19 L191.91,303.80 L193.09,303.41 L194.26,303.00 L195.43,302.59 L196.59,302.18 L197.75,301.75 L198.90,301.31 L200.05,300.87 L201.20,300.42 L202.33,299.95 L203.46,299.48 L204.57,299.00 L205.68,298.50 L206.78,297.99 L207.86,297.47 L208.93,296.94 L209.99,296.40 L211.04,295.84 L212.07,295.27 L213.09,294.68 L214.09,294.09 L215.08,293.47 L216.05,292.84 L217.00,292.20 L217.93,291.54 L218.84,290.86 L219.73,290.17 L220.60,289.46 L221.45,288.73 L222.28,287.99 L223.08,287.22 L223.86,286.44 L224.61,285.64 L225.34,284.82 L226.04,283.98 L226.72,283.11 L227.37,282.23 L227.99,281.33 L228.59,280.42 L229.16,279.48 L229.71,278.53 L230.23,277.57 L230.73,276.59 L231.21,275.59 L231.66,274.58 L232.10,273.56 L232.50,272.53 L232.89,271.48 L233.26,270.42 L233.60,269.36 L233.92,268.28 L234.23,267.20 L234.51,266.10 L234.78,265.00 L235.03,263.90 L235.26,262.78 L235.49,261.67 L235.70,260.54 L235.90,259.42 L236.09,258.29 L236.27,257.16 L236.44,256.02 L236.62,254.89 L236.78,253.75 L236.94,252.61 L237.10,251.47 L237.24,250.33 L237.39,249.19 L237.53,248.05 L237.66,246.91 L237.79,245.76 L237.92,244.61 L238.04,243.47 L238.15,242.32 L238.26,241.17 L238.37,240.02 L238.47,238.86 L238.56,237.71 L238.66,236.56 L238.75,235.40 L238.83,234.24 L238.91,233.09 L238.99,231.93 L239.06,230.77 L239.13,229.61 L239.19,228.45 L239.25,227.29 L239.31,226.12 L239.37,224.96 L239.42,223.80 L239.47,222.63 L239.51,221.47 L239.55,220.30 L239.59,219.13 L239.63,217.96 L239.66,216.80 L239.69,215.63 L239.72,214.46 L239.74,213.29 L239.76,212.12 L239.78,210.95 L239.80,209.78 L239.81,208.60 L239.82,207.43 L239.83,206.26 L239.84,205.08 L239.85,203.91 L239.85,202.74 L239.86,201.56 L239.86,200.39 L239.85,199.21 L239.85,198.04 L239.85,196.86 L239.84,195.69 L239.84,194.51 L239.83,193.34 L239.82,192.16 L239.81,190.98 L239.80,189.81 L239.78,188.63 L239.77,187.46 L239.76,186.28 L239.74,185.10 L239.73,183.93 L239.71,182.75 L239.69,181.58 L239.68,180.40 L239.66,179.22 L239.64,178.05 L239.62,176.87 L239.61,175.70 L239.59,174.52 L239.57,173.35 L239.55,172.17 L239.54,171.00 L239.52,169.83 L239.51,168.65 L239.49,167.48 L239.47,166.31 L239.46,165.13 L239.45,163.96 L239.43,162.79 L239.42,161.62 L239.41,160.45 L239.40,159.28 L239.39,158.11 L239.39,156.94 L239.38,155.78 L239.38,154.61 L239.37,153.44 L239.37,152.28 L239.37,151.11 L239.37,149.95 L239.38,148.78 L239.38,147.62 L239.39,146.46 L239.40,145.30 L239.41,144.14 L239.43,142.98 L239.44,141.82 L239.46,140.66 L239.49,139.50 L239.51,138.35 L239.54,137.19 L239.56,136.04 L239.60,134.89 L239.63,133.73 L239.67,132.58 L239.71,131.44 L239.75,130.29 L239.80,129.14 L239.85,127.99 L239.91,126.85 L239.96,125.71 L240.03,124.56 L240.09,123.42 L240.16,122.28 L240.23,121.15 L240.31,120.01 L240.29,120.00 L240.34,120.44 L240.38,120.88 L240.42,121.31 L240.46,121.75 L240.50,122.19 L240.54,122.63 L240.58,123.07 L240.61,123.51 L240.65,123.94 L240.69,124.38 L240.72,124.82 L240.76,125.26 L240.79,125.70 L240.82,126.14 L240.86,126.58 L240.89,127.01 L240.92,127.45 L240.95,127.89 L240.98,128.33 L241.01,128.77 L241.03,129.21 L241.06,129.65 L241.09,130.08 L241.11,130.52 L241.14,130.96 L241.16,131.40 L241.19,131.84 L241.21,132.28 L241.23,132.72 L241.26,133.16 L241.28,133.59 L241.30,134.03 L241.32,134.47 L241.34,134.91 L241.36,135.35 L241.38,135.79 L241.39,136.23 L241.41,136.67 L241.43,137.11 L241.44,137.55 L241.46,137.98 L241.47,138.42 L241.49,138.86 L241.50,139.30 L241.52,139.74 L241.53,140.18 L241.54,140.62 L241.55,141.06 L241.56,141.50 L241.57,141.94 L241.58,142.38 L241.59,142.82 L241.60,143.25 L241.61,143.69 L241.62,144.13 L241.63,144.57 L241.64,145.01 L241.64,145.45 L241.65,145.89 L241.65,146.33 L241.66,146.77 L241.66,147.21 L241.67,147.65 L241.67,148.09 L241.68,148.53 L241.68,148.97 L241.68,149.41 L241.68,149.85 L241.69,150.28 L241.69,150.72 L241.69,151.16 L241.69,151.60 L241.69,152.04 L241.69,152.48 L241.69,152.92 L241.69,153.36 L241.69,153.80 L241.69,154.24 L241.68,154.68 L241.68,155.12 L241.68,155.56 L241.68,156.00 L241.67,156.44 L241.67,156.88 L241.67,157.32 L241.66,157.76 L241.66,158.20 L241.65,158.64 L241.65,159.08 L241.64,159.52 L241.64,159.96 L241.63,160.40 L241.62,160.84 L241.62,161.28 L241.61,161.72 L241.60,162.16 L241.60,162.60 L241.59,163.04 L241.58,163.47 L241.57,163.91 L241.57,164.35 L241.56,164.79 L241.55,165.23 L241.54,165.67 L241.53,166.11 L241.52,166.55 L241.51,166.99 L241.50,167.43 L241.49,167.87 L241.48,168.31 L241.47,168.75 L241.46,169.19 L241.45,169.63 L241.44,170.07 L241.43,170.51 L241.42,170.95 L241.41,171.39 L241.40,171.83 L241.39,172.27 L241.37,172.71 L241.36,173.15 L241.35,173.59 L241.34,174.03 L241.33,174.47 L241.32,174.91 L241.30,175.35 L241.29,175.79 L241.28,176.23 L241.27,176.67 L241.26,177.11 L241.24,177.55 L241.23,177.99 L241.22,178.43 L241.21,178.87 L241.19,179.31 L241.18,179.75 L241.17,180.19 L241.16,180.63 L241.14,181.07 L241.13,181.51 L241.12,181.95 L241.11,182.39 L241.09,182.83 L241.08,183.27 L241.07,183.71 L241.06,184.15 L241.04,184.59 L241.03,185.03 L241.02,185.47 L241.01,185.91 L240.99,186.35 L240.98,186.79 L240.97,187.23 L240.96,187.67 L240.95,188.11 L240.93,188.55 L240.92,188.99 L240.91,189.43 L240.90,189.87 L240.89,190.31 L240.88,190.75 L240.87,191.19 L240.86,191.63 L240.84,192.07 L240.83,192.51 L240.82,192.95 L240.81,193.39 L240.80,193.83 L240.79,194.27 L240.78,194.70 L240.77,195.14 L240.76,195.58 L240.75,196.02 L240.74,196.46 L240.74,196.90 L240.73,197.34 L240.72,197.78 L240.71,198.22 L240.70,198.66 L240.69,199.10 L240.69,199.54 L240.68,199.98 L240.67,200.42 L240.66,200.86 L240.66,201.30 L240.65,201.74 L240.64,202.18 L240.64,202.62 L240.63,203.06 L240.63,203.50 L240.62,203.94 L240.62,204.38 L240.61,204.82 L240.61,205.26 L240.61,205.70 L240.60,206.14 L240.60,206.57 L240.60,207.01 L240.59,207.45 L240.59,207.89 L240.59,208.33 L240.59,208.77 L240.59,209.21 L240.59,209.65 L240.59,210.09 L240.59,210.53 L240.59,210.97 L240.59,211.41 L240.59,211.85 L240.59,212.29 L240.59,212.73 L240.59,213.16 L240.60,213.60 L240.60,214.04 L240.60,214.48 L240.61,214.92 L240.61,215.36 L240.62,215.80 L240.62,216.24 L240.63,216.68 L240.63,217.12 L240.64,217.56 L240.65,218.00 L240.66,218.43 L240.66,218.87 L240.67,219.31 L240.68,219.75 L240.69,220.19 L240.70,220.63 L240.71,221.07 L240.72,221.51 L240.74,221.95 L240.75,222.39 L240.76,222.82 L240.77,223.26 L240.79,223.70 L240.80,224.14 L240.82,224.58 L240.83,225.02 L240.85,225.46 L240.87,225.90 L240.88,226.33 L240.90,226.77 L240.92,227.21 L240.94,227.65 L240.96,228.09 L240.98,228.53 L241.00,228.97 L241.02,229.40 L241.04,229.84 L241.07,230.28 L241.09,230.72 L241.11,231.16 L241.14,231.60 L241.16,232.03 L241.19,232.47 L241.22,232.91 L241.25,233.35 L241.27,233.79 L241.30,234.23 L241.33,234.66 L241.36,235.10 L241.39,235.54 L241.42,235.98 L241.46,236.42 L241.49,236.86 L241.52,237.29 L241.56,237.73 L241.59,238.17 L241.63,238.61 L241.67,239.05 L241.70,239.48 L241.74,239.92 L241.78,240.36 L241.82,240.80 L241.86,241.23 L241.90,241.67 L241.94,242.11 L241.99,242.55 L242.03,242.99 L242.08,243.42 L242.12,243.86 L242.17,244.30 L242.21,244.74 L242.26,245.17 L242.31,245.61 L242.36,246.05 L242.41,246.49 L242.46,246.92 L242.51,247.36 L242.57,247.80 L242.62,248.24 L242.67,248.67 L242.73,249.11 L242.79,249.55 L242.84,249.98 L242.90,250.42 L242.96,250.86 L243.02,251.30 L243.08,251.73 L243.14,252.17 L243.21,252.61 L243.27,253.04 L243.33,253.48 L243.40,253.92 L243.47,254.35 L243.53,254.79 L243.60,255.23 L243.67,255.67 L243.74,256.10 L243.81,256.54 L243.89,256.98 L243.96,257.41 L244.03,257.85 L244.11,258.28 L244.19,258.72 L244.26,259.16 L244.34,259.59 L244.42,260.03 L244.50,260.47 L244.58,260.90 L244.67,261.34 L244.75,261.77 L244.83,262.21 L244.92,262.64 L245.01,263.08 L245.10,263.51 L245.19,263.95 L245.28,264.38 L245.37,264.81 L245.46,265.25 L245.56,265.68 L245.66,266.11 L245.75,266.54 L245.85,266.97 L245.95,267.41 L246.05,267.84 L246.16,268.27 L246.26,268.70 L246.37,269.12 L246.47,269.55 L246.58,269.98 L246.69,270.41 L246.80,270.84 L246.91,271.26 L247.03,271.69 L247.14,272.11 L247.26,272.54 L247.38,272.96 L247.50,273.39 L247.62,273.81 L247.74,274.23 L247.87,274.65 L247.99,275.07 L248.12,275.49 L248.25,275.91 L248.38,276.33 L248.52,276.75 L248.65,277.17 L248.79,277.58 L248.92,278.00 L249.06,278.41 L249.20,278.82 L249.35,279.24 L249.49,279.65 L249.64,280.06 L249.79,280.47 L249.94,280.88 L250.09,281.28 L250.24,281.69 L250.40,282.10 L250.55,282.50 L250.71,282.91 L250.87,283.31 L251.04,283.71 L251.20,284.11 L251.37,284.51 L251.54,284.91 L251.71,285.30 L251.88,285.70 L252.05,286.09 L252.23,286.49 L252.41,286.88 L252.59,287.27 L252.77,287.66 L252.96,288.05 L253.14,288.44 L253.33,288.82 L253.52,289.21 L253.71,289.59 L253.91,289.97 L254.11,290.35 L254.31,290.73 L254.51,291.11 L254.71,291.49 L254.92,291.86 L255.12,292.23 L255.33,292.61 L255.55,292.98 L255.76,293.35 L255.98,293.71 L256.20,294.08 L256.42,294.44 L256.64,294.81 L256.87,295.17 L257.10,295.53 L257.33,295.89 L257.56,296.24 L257.79,296.60 L258.03,296.95 L258.27,297.30 L258.51,297.65 L258.76,298.00 L259.01,298.35 L259.26,298.69 L259.51,299.03 L259.76,299.37 L260.02,299.71 L260.28,300.05 L260.54,300.39 L260.80,300.73 L261.07,301.06 L261.34,301.39 L261.61,301.72 L261.88,302.05 L262.16,302.38 L262.43,302.71 L262.71,303.04 L262.99,303.36 L263.28,303.69 L263.56,304.01 L263.85,304.33 L264.14,304.65 L264.43,304.97 L264.72,305.29 L265.02,305.61 L265.31,305.93 L265.61,306.24 L265.91,306.56 L266.22,306.88 L266.52,307.19 L266.83,307.50 L267.13,307.82 L267.44,308.13 L267.76,308.44 L268.07,308.75 L268.39,309.06 L268.70,309.37 L269.02,309.68 L269.34,309.99 L269.66,310.30 L269.99,310.61 L270.31,310.91 L270.64,311.22 L270.97,311.53 L271.30,311.84 L271.63,312.14 L271.96,312.45 L272.30,312.76 L272.63,313.06 L272.97,313.37 L273.31,313.68 L273.65,313.98 L273.99,314.29 L274.33,314.60 L274.68,314.91 L275.02,315.21 L275.37,315.52 L275.72,315.83 L276.07,316.14 L276.42,316.44 L276.77,316.75 L277.12,317.06 L277.48,317.37 L277.83,317.68 L278.19,317.99 L278.55,318.30 L278.90,318.61 L279.26,318.92 L279.62,319.24 L279.99,319.55 L280.35,319.86 L280.71,320.18 L281.08,320.49 L281.44,320.81 L281.81,321.13 L282.18,321.44 L282.55,321.76 L282.92,322.08 L283.29,322.39 L283.66,322.71 L284.03,323.02 L284.40,323.33 L284.78,323.65 L285.15,323.95 L285.53,324.26 L285.90,324.56 L286.28,324.86 L286.65,325.15 L287.03,325.44 L287.41,325.73 L287.79,326.01 L288.17,326.29 L288.55,326.56 L288.93,326.82 L289.31,327.08 L289.69,327.33 L290.07,327.57 L290.46,327.81 L290.84,328.04 L291.22,328.26 L291.61,328.47 L291.99,328.67 L292.38,328.87 L292.76,329.05 L293.15,329.23 L293.53,329.39 L293.92,329.55 L294.30,329.69 L294.69,329.82 L295.08,329.94 L295.46,330.05 L295.85,330.15 L296.24,330.23 L296.62,330.30 L297.01,330.35 L297.40,330.40 L297.79,330.42 L298.17,330.43 L298.56,330.42 L298.95,330.39 L299.34,330.35 L299.73,330.28 L300.11,330.19 L300.50,330.07 L300.88,329.94 L301.26,329.79 L301.63,329.62 L302.00,329.43 L302.36,329.22 L302.71,328.99 L303.05,328.75 L303.38,328.49 L303.69,328.22 L303.99,327.93 L304.28,327.62 L304.55,327.31 L304.80,326.98 L305.03,326.64 L305.24,326.29 L305.44,325.92 L305.62,325.55 L305.79,325.17 L305.94,324.78 L306.08,324.38 L306.21,323.97 L306.32,323.56 L306.43,323.14 L306.53,322.72 L306.62,322.29 L306.70,321.86 L306.77,321.42 L306.84,320.98 L306.89,320.53 L306.94,320.08 L306.99,319.63 L307.03,319.17 L307.06,318.71 L307.09,318.25 L307.11,317.79 L307.13,317.33 L307.15,316.86 L307.16,316.40 L307.17,315.93 L307.18,315.46 L307.18,315.00 L307.18,314.53 L307.18,314.07 L307.18,313.60 L307.18,313.14 L307.18,312.68 L307.18,312.22 L307.18,311.76 L307.18,311.30 L307.18,310.85 L307.19,310.40 L307.20,309.96 L307.20,309.52 L307.22,309.08 L307.23,308.65 L307.25,308.22 L307.28,307.79 L307.31,307.38 L307.34,306.97 L307.38,306.56 L307.43,306.16 L307.48,305.77 L307.54,305.38 L307.60,305.00 L307.60,285.80" fill="none" stroke="#ffa500" stroke-width="2.3" stroke-linejoin="bevel"/><path d="M307.60,287.80 L307.60,279.80 L349.20,314.40" fill="none" stroke="#ffa500" stroke-width="2.3" stroke-linejoin="miter" stroke-miterlimit="10"/>
</g>
<line x1="24" y1="392.3" x2="572" y2="392.3" stroke="#000000" stroke-width="1.2"/>
<line x1="34.4" y1="52.6" x2="34.4" y2="392.3" stroke="#000000" stroke-width="1.2"/>
<line x1="139.80" y1="392.3" x2="139.80" y2="385.8" stroke="#000000" stroke-width="1.2"/>
<line x1="245.00" y1="392.3" x2="245.00" y2="385.8" stroke="#000000" stroke-width="1.2"/>
<line x1="350.20" y1="392.3" x2="350.20" y2="385.8" stroke="#000000" stroke-width="1.2"/>
<line x1="455.40" y1="392.3" x2="455.40" y2="385.8" stroke="#000000" stroke-width="1.2"/>
<line x1="560.60" y1="392.3" x2="560.60" y2="385.8" stroke="#000000" stroke-width="1.2"/>
<line x1="34.4" y1="324.45" x2="40.8" y2="324.45" stroke="#000000" stroke-width="1.2"/>
<line x1="34.4" y1="256.60" x2="40.8" y2="256.60" stroke="#000000" stroke-width="1.2"/>
<line x1="34.4" y1="188.75" x2="40.8" y2="188.75" stroke="#000000" stroke-width="1.2"/>
<line x1="34.4" y1="120.90" x2="40.8" y2="120.90" stroke="#000000" stroke-width="1.2"/>
<line x1="34.4" y1="53.05" x2="40.8" y2="53.05" stroke="#000000" stroke-width="1.2"/>
<line x1="57.5" y1="177" x2="57.5" y2="357.7" stroke="#000000" stroke-width="1.2"/>
<line x1="56.9" y1="357.2" x2="348.3" y2="357.2" stroke="#000000" stroke-width="1.2"/>
<line x1="307.6" y1="357.2" x2="307.6" y2="353.6" stroke="#000000" stroke-width="1.2"/>
<text x="35.40" y="416.60" font-size="20.50" fill="#000" text-anchor="middle" stroke="#000" stroke-width="0.25" >0.</text>
<text x="139.80" y="416.60" font-size="20.50" fill="#000" text-anchor="middle" stroke="#000" stroke-width="0.25" >0.2</text>
<text x="245.00" y="416.60" font-size="20.50" fill="#000" text-anchor="middle" stroke="#000" stroke-width="0.25" >0.4</text>
<text x="350.20" y="416.60" font-size="20.50" fill="#000" text-anchor="middle" stroke="#000" stroke-width="0.25" >0.6</text>
<text x="455.40" y="416.60" font-size="20.50" fill="#000" text-anchor="middle" stroke="#000" stroke-width="0.25" >0.8</text>
<text x="561.40" y="416.60" font-size="20.50" fill="#000" text-anchor="middle" stroke="#000" stroke-width="0.25" >1.</text>
<text x="27.00" y="330.45" font-size="20.50" fill="#000" text-anchor="end" stroke="#000" stroke-width="0.25" >0.2</text>
<text x="27.00" y="262.60" font-size="20.50" fill="#000" text-anchor="end" stroke="#000" stroke-width="0.25" >0.4</text>
<text x="27.00" y="194.75" font-size="20.50" fill="#000" text-anchor="end" stroke="#000" stroke-width="0.25" >0.6</text>
<text x="27.00" y="126.90" font-size="20.50" fill="#000" text-anchor="end" stroke="#000" stroke-width="0.25" >0.8</text>
<text x="28.00" y="58.25" font-size="20.50" fill="#000" text-anchor="end" stroke="#000" stroke-width="0.25" >1.</text>
<text x="369.80" y="81.30" font-size="25.00" fill="#ffa500" word-spacing="1.20" stroke="#ffa500" stroke-width="0.30" ><tspan font-style="italic">m</tspan> = 5.</text>
<text x="369.80" y="167.80" font-size="25.00" fill="#ff0000" word-spacing="1.20" stroke="#ff0000" stroke-width="0.30" ><tspan font-style="italic">m</tspan> = 2.</text>
<text x="317.80" y="245.50" font-size="25.00" fill="#0000ff" word-spacing="1.20" stroke="#0000ff" stroke-width="0.30" ><tspan font-style="italic">m</tspan> = 1.</text>
<text x="364.00" y="303.50" font-size="25.00" fill="#008000" word-spacing="1.20" stroke="#008000" stroke-width="0.30" ><tspan font-style="italic">m</tspan> = 0.5</text>
<text x="0.00" y="0.00" font-size="16.50" fill="#008000" word-spacing="0.40" stroke="#008000" stroke-width="0.20" transform="translate(104.2,265.0) skewY(-14.4)"><tspan font-style="italic">m</tspan> = 0.5</text>
<text x="0.00" y="0.00" font-size="16.50" fill="#0000ff" word-spacing="0.40" stroke="#0000ff" stroke-width="0.20" transform="translate(123.7,277.6) skewY(-16)"><tspan font-style="italic">m</tspan> = 1.</text>
<text x="0.00" y="0.00" font-size="16.50" fill="#ff0000" word-spacing="0.40" stroke="#ff0000" stroke-width="0.20" transform="translate(150.3,287.5) skewY(-17.5)"><tspan font-style="italic">m</tspan> = 2.</text>
<text x="0.00" y="0.00" font-size="16.50" fill="#ffa500" word-spacing="0.40" stroke="#ffa500" stroke-width="0.20" transform="translate(170.9,304.0) skewY(-16.4)"><tspan font-style="italic">m</tspan> = 5.</text>
<text x="307.50" y="381.70" font-size="20.00" fill="#000" text-anchor="middle" font-style="italic" stroke="#000" stroke-width="0.20" >M</text>
<text x="29.30" y="29.20" font-size="29.50" fill="#000" text-anchor="start" font-style="italic" stroke="#000" stroke-width="0.30" >r</text>
<text x="0" y="0" font-size="30" fill="#000" stroke="#000" stroke-width="0.3" font-style="italic" transform="translate(588,400) scale(1.12,1)">ζ</text>
<text x="603.3" y="405" font-size="21" fill="#000" stroke="#000" stroke-width="0.3">∞</text>
</svg>
</body></html>
